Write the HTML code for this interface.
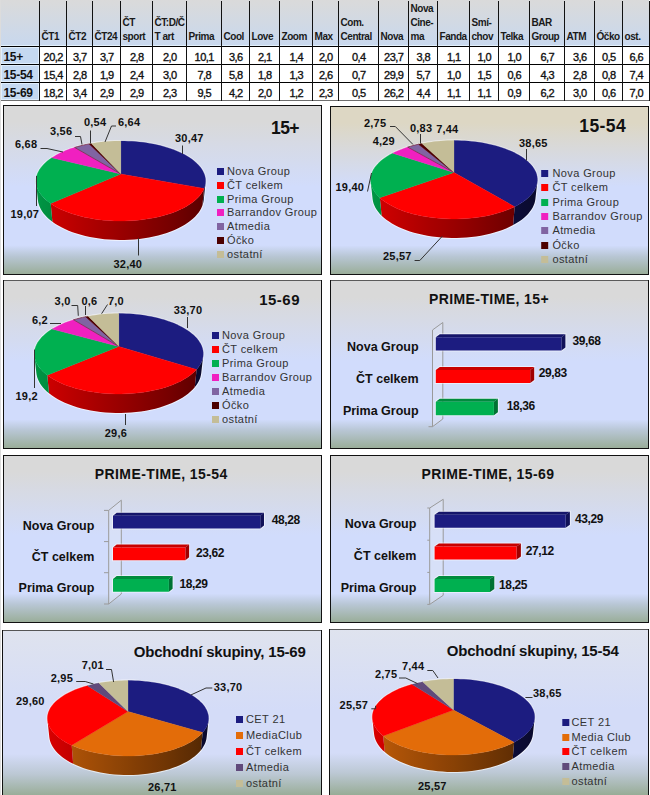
<!DOCTYPE html><html><head><meta charset="utf-8"><style>
*{margin:0;padding:0}
html,body{width:650px;height:795px;overflow:hidden;background:#fff}
svg{display:block;font-family:"Liberation Sans",sans-serif}
</style></head><body>
<svg width="650" height="795" viewBox="0 0 650 795" font-family="Liberation Sans, sans-serif"><defs><linearGradient id="hg" x1="0" y1="0" x2="0" y2="1"><stop offset="0" stop-color="#dadada"/><stop offset="1" stop-color="#c8d8ee"/></linearGradient><linearGradient id="pg1" gradientUnits="userSpaceOnUse" x1="0" y1="105" x2="0" y2="275"><stop offset="0" stop-color="#d9d9d9"/><stop offset="0.1" stop-color="#d9d9d9"/><stop offset="0.48" stop-color="#d1dcfc"/><stop offset="0.825" stop-color="#d1dcfc"/><stop offset="0.89" stop-color="#b8c6d4"/><stop offset="1" stop-color="#98ac96"/></linearGradient><linearGradient id="pg2" gradientUnits="userSpaceOnUse" x1="0" y1="106" x2="0" y2="275"><stop offset="0" stop-color="#ddd7c4"/><stop offset="0.1" stop-color="#ddd7c4"/><stop offset="0.48" stop-color="#d1dcfc"/><stop offset="0.825" stop-color="#d1dcfc"/><stop offset="0.89" stop-color="#b8c6d4"/><stop offset="1" stop-color="#98ac96"/></linearGradient><linearGradient id="pg3" gradientUnits="userSpaceOnUse" x1="0" y1="280" x2="0" y2="449"><stop offset="0" stop-color="#d9d9d9"/><stop offset="0.1" stop-color="#d9d9d9"/><stop offset="0.48" stop-color="#d1dcfc"/><stop offset="0.825" stop-color="#d1dcfc"/><stop offset="0.89" stop-color="#b8c6d4"/><stop offset="1" stop-color="#98ac96"/></linearGradient><linearGradient id="pg4" gradientUnits="userSpaceOnUse" x1="0" y1="280" x2="0" y2="449"><stop offset="0" stop-color="#d9d9d9"/><stop offset="0.1" stop-color="#d9d9d9"/><stop offset="0.48" stop-color="#d1dcfc"/><stop offset="0.825" stop-color="#d1dcfc"/><stop offset="0.89" stop-color="#b8c6d4"/><stop offset="1" stop-color="#98ac96"/></linearGradient><linearGradient id="pg5" gradientUnits="userSpaceOnUse" x1="0" y1="455" x2="0" y2="623"><stop offset="0" stop-color="#d9d9d9"/><stop offset="0.1" stop-color="#d9d9d9"/><stop offset="0.48" stop-color="#d1dcfc"/><stop offset="0.825" stop-color="#d1dcfc"/><stop offset="0.89" stop-color="#b8c6d4"/><stop offset="1" stop-color="#98ac96"/></linearGradient><linearGradient id="pg6" gradientUnits="userSpaceOnUse" x1="0" y1="455" x2="0" y2="623"><stop offset="0" stop-color="#d9d9d9"/><stop offset="0.1" stop-color="#d9d9d9"/><stop offset="0.48" stop-color="#d1dcfc"/><stop offset="0.825" stop-color="#d1dcfc"/><stop offset="0.89" stop-color="#b8c6d4"/><stop offset="1" stop-color="#98ac96"/></linearGradient><linearGradient id="pg7" gradientUnits="userSpaceOnUse" x1="0" y1="630" x2="0" y2="830"><stop offset="0" stop-color="#dfe3ee"/><stop offset="0.4" stop-color="#d4dcf8"/><stop offset="0.62" stop-color="#d4dcf8"/><stop offset="0.72" stop-color="#bcc8d4"/><stop offset="0.83" stop-color="#98ac96"/><stop offset="1" stop-color="#98ac96"/></linearGradient><linearGradient id="pg8" gradientUnits="userSpaceOnUse" x1="0" y1="629" x2="0" y2="829"><stop offset="0" stop-color="#dfe3ee"/><stop offset="0.4" stop-color="#d4dcf8"/><stop offset="0.62" stop-color="#d4dcf8"/><stop offset="0.72" stop-color="#bcc8d4"/><stop offset="0.83" stop-color="#98ac96"/><stop offset="1" stop-color="#98ac96"/></linearGradient></defs>
<rect x="0" y="0" width="1" height="795" fill="#dcdcdc" />
<rect x="1" y="0" width="648" height="46" fill="url(#hg)" />
<rect x="1" y="45" width="648" height="1" fill="#e2f0fc" />
<rect x="1" y="47" width="38" height="17" fill="#c5d9f1" />
<rect x="1.5" y="47.5" width="37" height="16" fill="none" stroke="#e0eefc" stroke-width="1"/>
<rect x="1" y="65" width="38" height="17" fill="#c5d9f1" />
<rect x="1.5" y="65.5" width="37" height="16" fill="none" stroke="#e0eefc" stroke-width="1"/>
<rect x="1" y="83" width="38" height="17" fill="#c5d9f1" />
<rect x="1.5" y="83.5" width="37" height="16" fill="none" stroke="#e0eefc" stroke-width="1"/>
<rect x="1" y="46" width="649" height="1" fill="#000" />
<rect x="1" y="64" width="649" height="1" fill="#000" />
<rect x="1" y="82" width="649" height="1" fill="#000" />
<rect x="1" y="100" width="649" height="1" fill="#6e6e6e" />
<rect x="39" y="1" width="1" height="100" fill="#111" />
<rect x="66" y="1" width="1" height="100" fill="#111" />
<rect x="92" y="1" width="1" height="100" fill="#111" />
<rect x="120" y="1" width="1" height="100" fill="#111" />
<rect x="152" y="1" width="1" height="100" fill="#111" />
<rect x="186" y="1" width="1" height="100" fill="#111" />
<rect x="221" y="1" width="1" height="100" fill="#111" />
<rect x="249" y="1" width="1" height="100" fill="#111" />
<rect x="279" y="1" width="1" height="100" fill="#111" />
<rect x="312" y="1" width="1" height="100" fill="#111" />
<rect x="338" y="1" width="1" height="100" fill="#111" />
<rect x="378" y="1" width="1" height="100" fill="#111" />
<rect x="408" y="1" width="1" height="100" fill="#111" />
<rect x="437" y="1" width="1" height="100" fill="#111" />
<rect x="469" y="1" width="1" height="100" fill="#111" />
<rect x="498" y="1" width="1" height="100" fill="#111" />
<rect x="529" y="1" width="1" height="100" fill="#111" />
<rect x="564" y="1" width="1" height="100" fill="#111" />
<rect x="594" y="1" width="1" height="100" fill="#111" />
<rect x="622" y="1" width="1" height="100" fill="#111" />
<rect x="649" y="1" width="1" height="100" fill="#111" />
<text x="41.5" y="40" font-size="10" font-weight="bold" fill="#1a1a1a" text-anchor="start" letter-spacing="-0.45" >ČT1</text>
<text x="68.5" y="40" font-size="10" font-weight="bold" fill="#1a1a1a" text-anchor="start" letter-spacing="-0.45" >ČT2</text>
<text x="94.5" y="40" font-size="10" font-weight="bold" fill="#1a1a1a" text-anchor="start" letter-spacing="-0.45" >ČT24</text>
<text x="122.5" y="26" font-size="10" font-weight="bold" fill="#1a1a1a" text-anchor="start" letter-spacing="-0.45" >ČT</text>
<text x="122.5" y="40" font-size="10" font-weight="bold" fill="#1a1a1a" text-anchor="start" letter-spacing="-0.45" >sport</text>
<text x="154.5" y="26" font-size="10" font-weight="bold" fill="#1a1a1a" text-anchor="start" letter-spacing="-0.45" >ČT:D/Č</text>
<text x="154.5" y="40" font-size="10" font-weight="bold" fill="#1a1a1a" text-anchor="start" letter-spacing="-0.45" >T art</text>
<text x="188.5" y="40" font-size="10" font-weight="bold" fill="#1a1a1a" text-anchor="start" letter-spacing="-0.45" >Prima</text>
<text x="223.5" y="40" font-size="10" font-weight="bold" fill="#1a1a1a" text-anchor="start" letter-spacing="-0.45" >Cool</text>
<text x="251.5" y="40" font-size="10" font-weight="bold" fill="#1a1a1a" text-anchor="start" letter-spacing="-0.45" >Love</text>
<text x="281.5" y="40" font-size="10" font-weight="bold" fill="#1a1a1a" text-anchor="start" letter-spacing="-0.45" >Zoom</text>
<text x="314.5" y="40" font-size="10" font-weight="bold" fill="#1a1a1a" text-anchor="start" letter-spacing="-0.45" >Max</text>
<text x="340.5" y="26" font-size="10" font-weight="bold" fill="#1a1a1a" text-anchor="start" letter-spacing="-0.45" >Com.</text>
<text x="340.5" y="40" font-size="10" font-weight="bold" fill="#1a1a1a" text-anchor="start" letter-spacing="-0.45" >Central</text>
<text x="380.5" y="40" font-size="10" font-weight="bold" fill="#1a1a1a" text-anchor="start" letter-spacing="-0.45" >Nova</text>
<text x="410.5" y="12" font-size="10" font-weight="bold" fill="#1a1a1a" text-anchor="start" letter-spacing="-0.45" >Nova</text>
<text x="410.5" y="26" font-size="10" font-weight="bold" fill="#1a1a1a" text-anchor="start" letter-spacing="-0.45" >Cine-</text>
<text x="410.5" y="40" font-size="10" font-weight="bold" fill="#1a1a1a" text-anchor="start" letter-spacing="-0.45" >ma</text>
<text x="439.5" y="40" font-size="10" font-weight="bold" fill="#1a1a1a" text-anchor="start" letter-spacing="-0.45" >Fanda</text>
<text x="471.5" y="26" font-size="10" font-weight="bold" fill="#1a1a1a" text-anchor="start" letter-spacing="-0.45" >Smí-</text>
<text x="471.5" y="40" font-size="10" font-weight="bold" fill="#1a1a1a" text-anchor="start" letter-spacing="-0.45" >chov</text>
<text x="500.5" y="40" font-size="10" font-weight="bold" fill="#1a1a1a" text-anchor="start" letter-spacing="-0.45" >Telka</text>
<text x="531.5" y="26" font-size="10" font-weight="bold" fill="#1a1a1a" text-anchor="start" letter-spacing="-0.45" >BAR</text>
<text x="531.5" y="40" font-size="10" font-weight="bold" fill="#1a1a1a" text-anchor="start" letter-spacing="-0.45" >Group</text>
<text x="566.5" y="40" font-size="10" font-weight="bold" fill="#1a1a1a" text-anchor="start" letter-spacing="-0.45" >ATM</text>
<text x="596.5" y="40" font-size="10" font-weight="bold" fill="#1a1a1a" text-anchor="start" letter-spacing="-0.45" >Óčko</text>
<text x="624.5" y="40" font-size="10" font-weight="bold" fill="#1a1a1a" text-anchor="start" letter-spacing="-0.45" >ost.</text>
<text x="3.5" y="61" font-size="12" font-weight="bold" fill="#111" text-anchor="start" letter-spacing="-0.3" >15+</text>
<text x="53.3" y="61" font-size="11" font-weight="normal" fill="#111" text-anchor="middle" letter-spacing="-0.5" stroke="#111" stroke-width="0.35">20,2</text>
<text x="79.8" y="61" font-size="11" font-weight="normal" fill="#111" text-anchor="middle" letter-spacing="-0.5" stroke="#111" stroke-width="0.35">3,7</text>
<text x="106.8" y="61" font-size="11" font-weight="normal" fill="#111" text-anchor="middle" letter-spacing="-0.5" stroke="#111" stroke-width="0.35">3,7</text>
<text x="136.8" y="61" font-size="11" font-weight="normal" fill="#111" text-anchor="middle" letter-spacing="-0.5" stroke="#111" stroke-width="0.35">2,8</text>
<text x="169.8" y="61" font-size="11" font-weight="normal" fill="#111" text-anchor="middle" letter-spacing="-0.5" stroke="#111" stroke-width="0.35">2,0</text>
<text x="204.3" y="61" font-size="11" font-weight="normal" fill="#111" text-anchor="middle" letter-spacing="-0.5" stroke="#111" stroke-width="0.35">10,1</text>
<text x="235.8" y="61" font-size="11" font-weight="normal" fill="#111" text-anchor="middle" letter-spacing="-0.5" stroke="#111" stroke-width="0.35">3,6</text>
<text x="264.8" y="61" font-size="11" font-weight="normal" fill="#111" text-anchor="middle" letter-spacing="-0.5" stroke="#111" stroke-width="0.35">2,1</text>
<text x="296.3" y="61" font-size="11" font-weight="normal" fill="#111" text-anchor="middle" letter-spacing="-0.5" stroke="#111" stroke-width="0.35">1,4</text>
<text x="325.8" y="61" font-size="11" font-weight="normal" fill="#111" text-anchor="middle" letter-spacing="-0.5" stroke="#111" stroke-width="0.35">2,0</text>
<text x="358.8" y="61" font-size="11" font-weight="normal" fill="#111" text-anchor="middle" letter-spacing="-0.5" stroke="#111" stroke-width="0.35">0,4</text>
<text x="393.8" y="61" font-size="11" font-weight="normal" fill="#111" text-anchor="middle" letter-spacing="-0.5" stroke="#111" stroke-width="0.35">23,7</text>
<text x="423.3" y="61" font-size="11" font-weight="normal" fill="#111" text-anchor="middle" letter-spacing="-0.5" stroke="#111" stroke-width="0.35">3,8</text>
<text x="453.8" y="61" font-size="11" font-weight="normal" fill="#111" text-anchor="middle" letter-spacing="-0.5" stroke="#111" stroke-width="0.35">1,1</text>
<text x="484.3" y="61" font-size="11" font-weight="normal" fill="#111" text-anchor="middle" letter-spacing="-0.5" stroke="#111" stroke-width="0.35">1,0</text>
<text x="514.3" y="61" font-size="11" font-weight="normal" fill="#111" text-anchor="middle" letter-spacing="-0.5" stroke="#111" stroke-width="0.35">1,0</text>
<text x="547.3" y="61" font-size="11" font-weight="normal" fill="#111" text-anchor="middle" letter-spacing="-0.5" stroke="#111" stroke-width="0.35">6,7</text>
<text x="579.8" y="61" font-size="11" font-weight="normal" fill="#111" text-anchor="middle" letter-spacing="-0.5" stroke="#111" stroke-width="0.35">3,6</text>
<text x="608.8" y="61" font-size="11" font-weight="normal" fill="#111" text-anchor="middle" letter-spacing="-0.5" stroke="#111" stroke-width="0.35">0,5</text>
<text x="636.3" y="61" font-size="11" font-weight="normal" fill="#111" text-anchor="middle" letter-spacing="-0.5" stroke="#111" stroke-width="0.35">6,6</text>
<text x="3.5" y="79" font-size="12" font-weight="bold" fill="#111" text-anchor="start" letter-spacing="-0.3" >15-54</text>
<text x="53.3" y="79" font-size="11" font-weight="normal" fill="#111" text-anchor="middle" letter-spacing="-0.5" stroke="#111" stroke-width="0.35">15,4</text>
<text x="79.8" y="79" font-size="11" font-weight="normal" fill="#111" text-anchor="middle" letter-spacing="-0.5" stroke="#111" stroke-width="0.35">2,8</text>
<text x="106.8" y="79" font-size="11" font-weight="normal" fill="#111" text-anchor="middle" letter-spacing="-0.5" stroke="#111" stroke-width="0.35">1,9</text>
<text x="136.8" y="79" font-size="11" font-weight="normal" fill="#111" text-anchor="middle" letter-spacing="-0.5" stroke="#111" stroke-width="0.35">2,4</text>
<text x="169.8" y="79" font-size="11" font-weight="normal" fill="#111" text-anchor="middle" letter-spacing="-0.5" stroke="#111" stroke-width="0.35">3,0</text>
<text x="204.3" y="79" font-size="11" font-weight="normal" fill="#111" text-anchor="middle" letter-spacing="-0.5" stroke="#111" stroke-width="0.35">7,8</text>
<text x="235.8" y="79" font-size="11" font-weight="normal" fill="#111" text-anchor="middle" letter-spacing="-0.5" stroke="#111" stroke-width="0.35">5,8</text>
<text x="264.8" y="79" font-size="11" font-weight="normal" fill="#111" text-anchor="middle" letter-spacing="-0.5" stroke="#111" stroke-width="0.35">1,8</text>
<text x="296.3" y="79" font-size="11" font-weight="normal" fill="#111" text-anchor="middle" letter-spacing="-0.5" stroke="#111" stroke-width="0.35">1,3</text>
<text x="325.8" y="79" font-size="11" font-weight="normal" fill="#111" text-anchor="middle" letter-spacing="-0.5" stroke="#111" stroke-width="0.35">2,6</text>
<text x="358.8" y="79" font-size="11" font-weight="normal" fill="#111" text-anchor="middle" letter-spacing="-0.5" stroke="#111" stroke-width="0.35">0,7</text>
<text x="393.8" y="79" font-size="11" font-weight="normal" fill="#111" text-anchor="middle" letter-spacing="-0.5" stroke="#111" stroke-width="0.35">29,9</text>
<text x="423.3" y="79" font-size="11" font-weight="normal" fill="#111" text-anchor="middle" letter-spacing="-0.5" stroke="#111" stroke-width="0.35">5,7</text>
<text x="453.8" y="79" font-size="11" font-weight="normal" fill="#111" text-anchor="middle" letter-spacing="-0.5" stroke="#111" stroke-width="0.35">1,0</text>
<text x="484.3" y="79" font-size="11" font-weight="normal" fill="#111" text-anchor="middle" letter-spacing="-0.5" stroke="#111" stroke-width="0.35">1,5</text>
<text x="514.3" y="79" font-size="11" font-weight="normal" fill="#111" text-anchor="middle" letter-spacing="-0.5" stroke="#111" stroke-width="0.35">0,6</text>
<text x="547.3" y="79" font-size="11" font-weight="normal" fill="#111" text-anchor="middle" letter-spacing="-0.5" stroke="#111" stroke-width="0.35">4,3</text>
<text x="579.8" y="79" font-size="11" font-weight="normal" fill="#111" text-anchor="middle" letter-spacing="-0.5" stroke="#111" stroke-width="0.35">2,8</text>
<text x="608.8" y="79" font-size="11" font-weight="normal" fill="#111" text-anchor="middle" letter-spacing="-0.5" stroke="#111" stroke-width="0.35">0,8</text>
<text x="636.3" y="79" font-size="11" font-weight="normal" fill="#111" text-anchor="middle" letter-spacing="-0.5" stroke="#111" stroke-width="0.35">7,4</text>
<text x="3.5" y="97" font-size="12" font-weight="bold" fill="#111" text-anchor="start" letter-spacing="-0.3" >15-69</text>
<text x="53.3" y="97" font-size="11" font-weight="normal" fill="#111" text-anchor="middle" letter-spacing="-0.5" stroke="#111" stroke-width="0.35">18,2</text>
<text x="79.8" y="97" font-size="11" font-weight="normal" fill="#111" text-anchor="middle" letter-spacing="-0.5" stroke="#111" stroke-width="0.35">3,4</text>
<text x="106.8" y="97" font-size="11" font-weight="normal" fill="#111" text-anchor="middle" letter-spacing="-0.5" stroke="#111" stroke-width="0.35">2,9</text>
<text x="136.8" y="97" font-size="11" font-weight="normal" fill="#111" text-anchor="middle" letter-spacing="-0.5" stroke="#111" stroke-width="0.35">2,9</text>
<text x="169.8" y="97" font-size="11" font-weight="normal" fill="#111" text-anchor="middle" letter-spacing="-0.5" stroke="#111" stroke-width="0.35">2,3</text>
<text x="204.3" y="97" font-size="11" font-weight="normal" fill="#111" text-anchor="middle" letter-spacing="-0.5" stroke="#111" stroke-width="0.35">9,5</text>
<text x="235.8" y="97" font-size="11" font-weight="normal" fill="#111" text-anchor="middle" letter-spacing="-0.5" stroke="#111" stroke-width="0.35">4,2</text>
<text x="264.8" y="97" font-size="11" font-weight="normal" fill="#111" text-anchor="middle" letter-spacing="-0.5" stroke="#111" stroke-width="0.35">2,0</text>
<text x="296.3" y="97" font-size="11" font-weight="normal" fill="#111" text-anchor="middle" letter-spacing="-0.5" stroke="#111" stroke-width="0.35">1,2</text>
<text x="325.8" y="97" font-size="11" font-weight="normal" fill="#111" text-anchor="middle" letter-spacing="-0.5" stroke="#111" stroke-width="0.35">2,3</text>
<text x="358.8" y="97" font-size="11" font-weight="normal" fill="#111" text-anchor="middle" letter-spacing="-0.5" stroke="#111" stroke-width="0.35">0,5</text>
<text x="393.8" y="97" font-size="11" font-weight="normal" fill="#111" text-anchor="middle" letter-spacing="-0.5" stroke="#111" stroke-width="0.35">26,2</text>
<text x="423.3" y="97" font-size="11" font-weight="normal" fill="#111" text-anchor="middle" letter-spacing="-0.5" stroke="#111" stroke-width="0.35">4,4</text>
<text x="453.8" y="97" font-size="11" font-weight="normal" fill="#111" text-anchor="middle" letter-spacing="-0.5" stroke="#111" stroke-width="0.35">1,1</text>
<text x="484.3" y="97" font-size="11" font-weight="normal" fill="#111" text-anchor="middle" letter-spacing="-0.5" stroke="#111" stroke-width="0.35">1,1</text>
<text x="514.3" y="97" font-size="11" font-weight="normal" fill="#111" text-anchor="middle" letter-spacing="-0.5" stroke="#111" stroke-width="0.35">0,9</text>
<text x="547.3" y="97" font-size="11" font-weight="normal" fill="#111" text-anchor="middle" letter-spacing="-0.5" stroke="#111" stroke-width="0.35">6,2</text>
<text x="579.8" y="97" font-size="11" font-weight="normal" fill="#111" text-anchor="middle" letter-spacing="-0.5" stroke="#111" stroke-width="0.35">3,0</text>
<text x="608.8" y="97" font-size="11" font-weight="normal" fill="#111" text-anchor="middle" letter-spacing="-0.5" stroke="#111" stroke-width="0.35">0,6</text>
<text x="636.3" y="97" font-size="11" font-weight="normal" fill="#111" text-anchor="middle" letter-spacing="-0.5" stroke="#111" stroke-width="0.35">7,0</text>
<rect x="3.5" y="105.5" width="318" height="169" fill="url(#pg1)" stroke="#111" stroke-width="1"/>
<rect x="330.5" y="106.5" width="318" height="168" fill="url(#pg2)" stroke="#111" stroke-width="1"/>
<rect x="3.5" y="280.5" width="318" height="168" fill="url(#pg3)" stroke="#111" stroke-width="1"/>
<rect x="4" y="280" width="317" height="1" fill="#5a5a5a"/>
<rect x="330.5" y="280.5" width="318" height="168" fill="url(#pg4)" stroke="#111" stroke-width="1"/>
<rect x="331" y="280" width="317" height="1" fill="#5a5a5a"/>
<rect x="3.5" y="455.5" width="318" height="167" fill="url(#pg5)" stroke="#111" stroke-width="1"/>
<rect x="330.5" y="455.5" width="318" height="167" fill="url(#pg6)" stroke="#111" stroke-width="1"/>
<rect x="2.5" y="630.5" width="319" height="199" fill="url(#pg7)" stroke="#111" stroke-width="1"/>
<rect x="3" y="630" width="318" height="1" fill="#555"/>
<rect x="329.5" y="629.5" width="319" height="199" fill="url(#pg8)" stroke="#111" stroke-width="1"/>
<rect x="330" y="629" width="318" height="1" fill="#555"/>
<text x="429" y="304.4" font-size="14" font-weight="bold" fill="#111" text-anchor="start" letter-spacing="0.4" >PRIME-TIME, 15+</text>
<path d="M432.5,426.7L432.5,330L442.8,322.5L442.8,419Z" fill="#dde3f4" fill-opacity="0.5" stroke="#9a9a9a" stroke-width="1"/>
<path d="M428.5,426.7L432.5,426.7" fill="none" stroke="#9a9a9a" stroke-width="1"/>
<path d="M435.8,350.4L435.8,337.3L439.8,334.3L565.4,334.3L565.4,347.4L561.4,350.4Z" fill="none" stroke="#fff" stroke-opacity="0.5" stroke-width="2"/>
<path d="M435.80,337.30L439.80,334.30L565.40,334.30L561.40,337.30Z" fill="#15156a"/>
<path d="M561.40,337.30L565.40,334.30L565.40,347.40L561.40,350.40Z" fill="#111158"/>
<path d="M435.80,337.30L561.40,337.30L561.40,350.40L435.80,350.40Z" fill="#1c1c80"/>
<text x="572.5" y="344.5" font-size="12" font-weight="bold" fill="#111" text-anchor="start" letter-spacing="-0.4" >39,68</text>
<text x="418.6" y="351" font-size="12.5" font-weight="bold" fill="#111" text-anchor="end" >Nova Group</text>
<path d="M435.8,383L435.8,370L439.8,367L534.2,367L534.2,380L530.2,383Z" fill="none" stroke="#fff" stroke-opacity="0.5" stroke-width="2"/>
<path d="M435.80,370.00L439.80,367.00L534.20,367.00L530.20,370.00Z" fill="#c80000"/>
<path d="M530.20,370.00L534.20,367.00L534.20,380.00L530.20,383.00Z" fill="#a00000"/>
<path d="M435.80,370.00L530.20,370.00L530.20,383.00L435.80,383.00Z" fill="#ff0000"/>
<text x="538.7" y="377.2" font-size="12" font-weight="bold" fill="#111" text-anchor="start" letter-spacing="-0.4" >29,83</text>
<text x="418.6" y="383" font-size="12.5" font-weight="bold" fill="#111" text-anchor="end" >ČT celkem</text>
<path d="M435.8,415.2L435.8,401.8L439.8,398.8L497.9,398.8L497.9,412.2L493.9,415.2Z" fill="none" stroke="#fff" stroke-opacity="0.5" stroke-width="2"/>
<path d="M435.80,401.80L439.80,398.80L497.90,398.80L493.90,401.80Z" fill="#008c3e"/>
<path d="M493.90,401.80L497.90,398.80L497.90,412.20L493.90,415.20Z" fill="#007234"/>
<path d="M435.80,401.80L493.90,401.80L493.90,415.20L435.80,415.20Z" fill="#00b050"/>
<text x="506.7" y="409.7" font-size="12" font-weight="bold" fill="#111" text-anchor="start" letter-spacing="-0.4" >18,36</text>
<text x="418.6" y="415" font-size="12.5" font-weight="bold" fill="#111" text-anchor="end" >Prima Group</text>
<text x="94.8" y="478.9" font-size="14" font-weight="bold" fill="#111" text-anchor="start" letter-spacing="0.4" >PRIME-TIME, 15-54</text>
<path d="M108.7,604L108.7,510.4L121.3,500.2L121.3,594Z" fill="#dde3f4" fill-opacity="0.5" stroke="#9a9a9a" stroke-width="1"/>
<path d="M104,510.4L108.7,510.4" fill="none" stroke="#9a9a9a" stroke-width="1"/>
<path d="M104,541.6L108.7,541.6" fill="none" stroke="#9a9a9a" stroke-width="1"/>
<path d="M104,572.7L108.7,572.7" fill="none" stroke="#9a9a9a" stroke-width="1"/>
<path d="M104,604L108.7,604" fill="none" stroke="#9a9a9a" stroke-width="1"/>
<path d="M113,528.6L113,515.8L116.7,512.8L264.0,512.8L264.0,525.6L260.3,528.6Z" fill="none" stroke="#fff" stroke-opacity="0.5" stroke-width="2"/>
<path d="M113.00,515.80L116.70,512.80L264.00,512.80L260.30,515.80Z" fill="#15156a"/>
<path d="M260.30,515.80L264.00,512.80L264.00,525.60L260.30,528.60Z" fill="#111158"/>
<path d="M113.00,515.80L260.30,515.80L260.30,528.60L113.00,528.60Z" fill="#1c1c80"/>
<text x="271.7" y="523.5" font-size="12" font-weight="bold" fill="#111" text-anchor="start" letter-spacing="-0.4" >48,28</text>
<text x="94.3" y="530" font-size="12.5" font-weight="bold" fill="#111" text-anchor="end" >Nova Group</text>
<path d="M113,560.3L113,547.5L116.7,544.5L189.1,544.5L189.1,557.3L185.4,560.3Z" fill="none" stroke="#fff" stroke-opacity="0.5" stroke-width="2"/>
<path d="M113.00,547.50L116.70,544.50L189.10,544.50L185.40,547.50Z" fill="#c80000"/>
<path d="M185.40,547.50L189.10,544.50L189.10,557.30L185.40,560.30Z" fill="#a00000"/>
<path d="M113.00,547.50L185.40,547.50L185.40,560.30L113.00,560.30Z" fill="#ff0000"/>
<text x="196" y="556.5" font-size="12" font-weight="bold" fill="#111" text-anchor="start" letter-spacing="-0.4" >23,62</text>
<text x="94.3" y="561.3" font-size="12.5" font-weight="bold" fill="#111" text-anchor="end" >ČT celkem</text>
<path d="M113,591.8L113,579L116.7,576L172.6,576L172.6,588.8L168.9,591.8Z" fill="none" stroke="#fff" stroke-opacity="0.5" stroke-width="2"/>
<path d="M113.00,579.00L116.70,576.00L172.60,576.00L168.90,579.00Z" fill="#008c3e"/>
<path d="M168.90,579.00L172.60,576.00L172.60,588.80L168.90,591.80Z" fill="#007234"/>
<path d="M113.00,579.00L168.90,579.00L168.90,591.80L113.00,591.80Z" fill="#00b050"/>
<text x="179.5" y="587.5" font-size="12" font-weight="bold" fill="#111" text-anchor="start" letter-spacing="-0.4" >18,29</text>
<text x="94.3" y="592.4" font-size="12.5" font-weight="bold" fill="#111" text-anchor="end" >Prima Group</text>
<text x="421.6" y="478.9" font-size="14" font-weight="bold" fill="#111" text-anchor="start" letter-spacing="0.4" >PRIME-TIME, 15-69</text>
<path d="M429.7,604.4L429.7,508L443.2,499.3L443.2,595.3Z" fill="#dde3f4" fill-opacity="0.5" stroke="#9a9a9a" stroke-width="1"/>
<path d="M427.3,508L429.7,508" fill="none" stroke="#9a9a9a" stroke-width="1"/>
<path d="M427.3,540.2L429.7,540.2" fill="none" stroke="#9a9a9a" stroke-width="1"/>
<path d="M427.3,572.4L429.7,572.4" fill="none" stroke="#9a9a9a" stroke-width="1"/>
<path d="M427.3,604.4L429.7,604.4" fill="none" stroke="#9a9a9a" stroke-width="1"/>
<path d="M434.6,527.7L434.6,514.7L438.90000000000003,511.70000000000005L569.9,511.70000000000005L569.9,524.7L565.6,527.7Z" fill="none" stroke="#fff" stroke-opacity="0.5" stroke-width="2"/>
<path d="M434.60,514.70L438.90,511.70L569.90,511.70L565.60,514.70Z" fill="#15156a"/>
<path d="M565.60,514.70L569.90,511.70L569.90,524.70L565.60,527.70Z" fill="#111158"/>
<path d="M434.60,514.70L565.60,514.70L565.60,527.70L434.60,527.70Z" fill="#1c1c80"/>
<text x="575" y="523.4" font-size="12" font-weight="bold" fill="#111" text-anchor="start" letter-spacing="-0.4" >43,29</text>
<text x="416.4" y="528.4" font-size="12.5" font-weight="bold" fill="#111" text-anchor="end" >Nova Group</text>
<path d="M434.6,559.6L434.6,546.6L438.90000000000003,543.6L520.9,543.6L520.9,556.6L516.6,559.6Z" fill="none" stroke="#fff" stroke-opacity="0.5" stroke-width="2"/>
<path d="M434.60,546.60L438.90,543.60L520.90,543.60L516.60,546.60Z" fill="#c80000"/>
<path d="M516.60,546.60L520.90,543.60L520.90,556.60L516.60,559.60Z" fill="#a00000"/>
<path d="M434.60,546.60L516.60,546.60L516.60,559.60L434.60,559.60Z" fill="#ff0000"/>
<text x="525.7" y="555.4" font-size="12" font-weight="bold" fill="#111" text-anchor="start" letter-spacing="-0.4" >27,12</text>
<text x="416.4" y="560.4" font-size="12.5" font-weight="bold" fill="#111" text-anchor="end" >ČT celkem</text>
<path d="M434.6,592L434.6,579L438.90000000000003,576L494.3,576L494.3,589L490,592Z" fill="none" stroke="#fff" stroke-opacity="0.5" stroke-width="2"/>
<path d="M434.60,579.00L438.90,576.00L494.30,576.00L490.00,579.00Z" fill="#008c3e"/>
<path d="M490.00,579.00L494.30,576.00L494.30,589.00L490.00,592.00Z" fill="#007234"/>
<path d="M434.60,579.00L490.00,579.00L490.00,592.00L434.60,592.00Z" fill="#00b050"/>
<text x="499.1" y="589.2" font-size="12" font-weight="bold" fill="#111" text-anchor="start" letter-spacing="-0.4" >18,25</text>
<text x="416.4" y="592.4" font-size="12.5" font-weight="bold" fill="#111" text-anchor="end" >Prima Group</text>
<path d="M36.10,183.00L36.01,181.78L36.00,180.56L36.06,179.35L36.21,178.15L36.43,176.96L36.72,175.77L37.08,174.60L37.52,173.44L38.02,172.29L38.60,171.16L39.24,170.04L39.94,168.93L40.71,167.84L41.54,166.77L42.43,165.71L43.38,164.67L44.38,163.65L45.45,162.65L46.56,161.66L47.73,160.70L48.94,159.75L50.21,158.83L51.52,157.93L52.88,157.04L54.29,156.18L55.74,155.34L57.22,154.53L58.75,153.73L60.32,152.96L61.92,152.21L63.56,151.48L65.24,150.78L66.94,150.10L68.68,149.45L70.45,148.81L72.24,148.20L74.07,147.62L75.92,147.06L77.79,146.52L79.69,146.01L81.61,145.53L83.55,145.06L85.52,144.63L87.50,144.21L89.49,143.82L91.51,143.46L93.54,143.12L95.58,142.81L97.64,142.52L99.71,142.26L101.79,142.02L103.87,141.80L105.97,141.62L108.08,141.45L110.19,141.31L112.30,141.20L114.42,141.11L116.55,141.05L118.67,141.01L120.80,141.00L122.93,141.01L125.05,141.05L127.18,141.11L129.30,141.20L131.41,141.31L133.52,141.45L135.63,141.62L137.73,141.80L139.81,142.02L141.89,142.26L143.96,142.52L146.02,142.81L148.06,143.12L150.09,143.46L152.11,143.82L154.10,144.21L156.08,144.63L158.05,145.06L159.99,145.53L161.91,146.01L163.81,146.52L165.68,147.06L167.53,147.62L169.36,148.20L171.15,148.81L172.92,149.45L174.66,150.10L176.36,150.78L178.04,151.48L179.68,152.21L181.28,152.96L182.85,153.73L184.38,154.53L185.86,155.34L187.31,156.18L188.72,157.04L190.08,157.93L191.39,158.83L192.66,159.75L193.87,160.70L195.04,161.66L196.15,162.65L197.22,163.65L198.22,164.67L199.17,165.71L200.06,166.77L200.89,167.84L201.66,168.93L202.36,170.04L203.00,171.16L203.58,172.29L204.08,173.44L204.52,174.60L204.88,175.77L205.17,176.96L205.39,178.15L205.54,179.35L205.60,180.56L205.59,181.78L205.50,183.00L203.68,200.19L203.38,202.13L202.91,204.07L202.25,206.01L201.41,207.95L200.38,209.88L199.15,211.80L197.74,213.70L196.14,215.58L194.34,217.43L192.36,219.24L190.18,221.02L187.82,222.74L185.28,224.42L182.55,226.04L179.65,227.60L176.58,229.08L173.34,230.50L169.95,231.83L166.42,233.08L162.74,234.23L158.93,235.30L155.01,236.26L150.97,237.12L146.85,237.87L142.64,238.52L138.35,239.05L134.02,239.46L129.63,239.76L125.22,239.94L120.80,240.00L116.38,239.94L111.97,239.76L107.58,239.46L103.25,239.05L98.96,238.52L94.75,237.87L90.63,237.12L86.59,236.26L82.67,235.30L78.86,234.23L75.18,233.08L71.65,231.83L68.26,230.50L65.02,229.08L61.95,227.60L59.05,226.04L56.32,224.42L53.78,222.74L51.42,221.02L49.24,219.24L47.26,217.43L45.46,215.58L43.86,213.70L42.45,211.80L41.22,209.88L40.19,207.95L39.35,206.01L38.69,204.07L38.22,202.13L37.92,200.19Z" fill="none" stroke="#ffffff" stroke-opacity="0.6" stroke-width="2"/>
<linearGradient id="pw1" gradientUnits="userSpaceOnUse" x1="204.15" y1="0" x2="205.50" y2="0"><stop offset="0.0000" stop-color="#0a0a2c"/><stop offset="0.0970" stop-color="#0a0a2c"/><stop offset="0.1893" stop-color="#0a0a2c"/><stop offset="0.2770" stop-color="#0a0a2c"/><stop offset="0.3601" stop-color="#0a0a2c"/><stop offset="0.4385" stop-color="#0a0a2c"/><stop offset="0.5123" stop-color="#0a0a2c"/><stop offset="0.5815" stop-color="#0a0a2c"/><stop offset="0.6461" stop-color="#0a0a2c"/><stop offset="0.7062" stop-color="#0a0a2c"/><stop offset="0.7617" stop-color="#0a0a2c"/><stop offset="0.8127" stop-color="#0a0a2b"/><stop offset="0.8591" stop-color="#09092b"/><stop offset="0.9011" stop-color="#09092b"/><stop offset="0.9385" stop-color="#09092b"/><stop offset="0.9715" stop-color="#09092b"/><stop offset="1.0000" stop-color="#09092b"/></linearGradient>
<path d="M205.50,183.00L205.23,184.79L204.78,186.59L204.15,188.39L202.31,205.86L202.94,203.97L203.39,202.08L203.68,200.19Z" fill="url(#pw1)"/>
<linearGradient id="pw2" gradientUnits="userSpaceOnUse" x1="50.71" y1="0" x2="204.15" y2="0"><stop offset="0.0000" stop-color="#cc0000"/><stop offset="0.0495" stop-color="#c60000"/><stop offset="0.1084" stop-color="#bf0000"/><stop offset="0.1758" stop-color="#b70000"/><stop offset="0.2504" stop-color="#af0000"/><stop offset="0.3302" stop-color="#a60000"/><stop offset="0.4135" stop-color="#9e0000"/><stop offset="0.4978" stop-color="#950000"/><stop offset="0.5811" stop-color="#8c0000"/><stop offset="0.6611" stop-color="#830000"/><stop offset="0.7358" stop-color="#7b0000"/><stop offset="0.8034" stop-color="#740000"/><stop offset="0.8626" stop-color="#6d0000"/><stop offset="0.9124" stop-color="#660000"/><stop offset="0.9520" stop-color="#610000"/><stop offset="0.9812" stop-color="#5c0000"/><stop offset="1.0000" stop-color="#580000"/></linearGradient>
<path d="M204.15,188.39L203.18,190.50L201.96,192.60L200.49,194.68L198.76,196.74L196.78,198.77L194.54,200.76L192.04,202.70L189.30,204.59L186.31,206.41L183.07,208.15L179.61,209.82L175.92,211.40L172.01,212.88L167.90,214.26L163.61,215.53L159.14,216.68L154.52,217.70L149.75,218.60L144.86,219.36L139.88,219.98L134.81,220.45L129.68,220.78L124.51,220.96L119.33,220.99L114.15,220.88L109.00,220.61L103.91,220.20L98.88,219.64L93.95,218.94L89.13,218.11L84.44,217.14L79.90,216.04L75.53,214.82L71.34,213.49L67.35,212.05L63.56,210.52L60.00,208.89L56.66,207.17L53.57,205.38L50.71,203.52L52.36,221.72L55.15,223.67L58.19,225.54L61.45,227.34L64.94,229.04L68.64,230.65L72.54,232.16L76.64,233.55L80.91,234.82L85.34,235.97L89.91,236.98L94.61,237.85L99.43,238.58L104.33,239.16L109.30,239.59L114.32,239.87L119.36,239.99L124.42,239.96L129.46,239.77L134.46,239.43L139.40,238.93L144.27,238.28L149.03,237.49L153.68,236.56L158.20,235.49L162.56,234.29L166.75,232.96L170.77,231.52L174.58,229.97L178.19,228.32L181.59,226.57L184.75,224.74L187.69,222.84L190.38,220.86L192.83,218.83L195.03,216.75L196.98,214.62L198.69,212.46L200.14,210.27L201.35,208.07L202.31,205.86Z" fill="url(#pw2)"/>
<linearGradient id="pw3" gradientUnits="userSpaceOnUse" x1="36.10" y1="0" x2="50.71" y2="0"><stop offset="0.0000" stop-color="#009845"/><stop offset="0.0127" stop-color="#009845"/><stop offset="0.0317" stop-color="#009745"/><stop offset="0.0572" stop-color="#009744"/><stop offset="0.0893" stop-color="#009644"/><stop offset="0.1279" stop-color="#009644"/><stop offset="0.1732" stop-color="#009544"/><stop offset="0.2252" stop-color="#009443"/><stop offset="0.2840" stop-color="#009443"/><stop offset="0.3497" stop-color="#009343"/><stop offset="0.4221" stop-color="#009242"/><stop offset="0.5014" stop-color="#009142"/><stop offset="0.5875" stop-color="#009142"/><stop offset="0.6805" stop-color="#009041"/><stop offset="0.7802" stop-color="#008f41"/><stop offset="0.8867" stop-color="#008e40"/><stop offset="1.0000" stop-color="#008d40"/></linearGradient>
<path d="M50.71,203.52L48.11,201.61L45.76,199.64L43.67,197.63L41.83,195.59L40.25,193.51L38.92,191.42L37.85,189.32L37.02,187.21L36.44,185.10L36.10,183.00L37.92,200.19L38.27,202.40L38.86,204.61L39.68,206.83L40.75,209.04L42.06,211.23L43.63,213.41L45.44,215.55L47.50,217.66L49.80,219.72L52.36,221.72Z" fill="url(#pw3)"/>
<path d="M120.80,174.00L120.80,141.00L124.50,141.04L128.19,141.15L131.88,141.34L135.54,141.61L139.19,141.95L142.80,142.37L146.39,142.86L149.93,143.43L153.42,144.08L156.87,144.80L160.26,145.59L163.58,146.46L166.83,147.40L170.00,148.42L173.09,149.51L176.09,150.67L178.99,151.90L181.78,153.20L184.46,154.57L187.02,156.01L189.45,157.52L191.75,159.08L193.90,160.72L195.89,162.41L197.72,164.16L199.39,165.96L200.87,167.82L202.17,169.72L203.27,171.68L204.17,173.67L204.86,175.70L205.33,177.77L205.57,179.86L205.58,181.97L205.35,184.10L204.88,186.25L204.15,188.39Z" fill="#1c1c80" stroke="#1c1c80" stroke-width="0.3"/>
<path d="M120.80,174.00L204.15,188.39L203.18,190.50L201.96,192.60L200.49,194.68L198.76,196.74L196.78,198.77L194.54,200.76L192.04,202.70L189.30,204.59L186.31,206.41L183.07,208.15L179.61,209.82L175.92,211.40L172.01,212.88L167.90,214.26L163.61,215.53L159.14,216.68L154.52,217.70L149.75,218.60L144.86,219.36L139.88,219.98L134.81,220.45L129.68,220.78L124.51,220.96L119.33,220.99L114.15,220.88L109.00,220.61L103.91,220.20L98.88,219.64L93.95,218.94L89.13,218.11L84.44,217.14L79.90,216.04L75.53,214.82L71.34,213.49L67.35,212.05L63.56,210.52L60.00,208.89L56.66,207.17L53.57,205.38L50.71,203.52Z" fill="#ff0000" stroke="#ff0000" stroke-width="0.3"/>
<path d="M120.80,174.00L50.71,203.52L48.16,201.64L45.84,199.71L43.78,197.74L41.95,195.73L40.38,193.70L39.05,191.65L37.97,189.59L37.12,187.52L36.52,185.44L36.14,183.38L35.99,181.33L36.07,179.29L36.36,177.28L36.86,175.30L37.56,173.34L38.46,171.42L39.54,169.55L40.81,167.71L42.25,165.92L43.85,164.18L45.62,162.49L47.53,160.85L49.59,159.27L51.79,157.75Z" fill="#00b050" stroke="#00b050" stroke-width="0.3"/>
<path d="M120.80,174.00L51.79,157.75L53.95,156.38L56.22,155.07L58.60,153.81L61.06,152.61L63.62,151.46L66.26,150.37L68.98,149.33L71.78,148.36L74.64,147.45Z" fill="#f020c0" stroke="#f020c0" stroke-width="0.3"/>
<path d="M120.80,174.00L74.64,147.45L77.44,146.62L80.30,145.86L83.21,145.14L86.16,144.49L89.15,143.89Z" fill="#8064a2" stroke="#7a2a48" stroke-width="0.8"/>
<path d="M120.80,174.00L89.15,143.89L90.30,143.68L91.45,143.47Z" fill="#4c0000" stroke="#4c0000" stroke-width="0.3"/>
<path d="M120.80,174.00L91.45,143.47L94.62,142.95L97.82,142.50L101.05,142.10L104.31,141.76L107.58,141.49L110.87,141.28L114.17,141.12L117.49,141.03L120.80,141.00Z" fill="#c4bd97" stroke="#c4bd97" stroke-width="0.3"/>
<text x="271" y="133.5" font-size="17.5" font-weight="bold" fill="#111" text-anchor="start" letter-spacing="-0.6" >15+</text>
<rect x="217" y="168" width="7" height="7" fill="#1c1c80" />
<text x="227" y="175" font-size="11" font-weight="normal" fill="#333" text-anchor="start" letter-spacing="0.4" >Nova Group</text>
<rect x="217" y="182" width="7" height="7" fill="#ff0000" />
<text x="227" y="189" font-size="11" font-weight="normal" fill="#333" text-anchor="start" letter-spacing="0.4" >ČT celkem</text>
<rect x="217" y="196" width="7" height="7" fill="#00b050" />
<text x="227" y="203" font-size="11" font-weight="normal" fill="#333" text-anchor="start" letter-spacing="0.4" >Prima Group</text>
<rect x="217" y="209" width="7" height="7" fill="#f020c0" />
<text x="227" y="216" font-size="11" font-weight="normal" fill="#333" text-anchor="start" letter-spacing="0.4" >Barrandov Group</text>
<rect x="217" y="223" width="7" height="7" fill="#8064a2" />
<text x="227" y="230" font-size="11" font-weight="normal" fill="#333" text-anchor="start" letter-spacing="0.4" >Atmedia</text>
<rect x="217" y="237" width="7" height="7" fill="#4c0000" />
<text x="227" y="244" font-size="11" font-weight="normal" fill="#333" text-anchor="start" letter-spacing="0.4" >Óčko</text>
<rect x="217" y="251" width="7" height="7" fill="#c4bd97" />
<text x="227" y="258" font-size="11" font-weight="normal" fill="#333" text-anchor="start" letter-spacing="0.4" >ostatní</text>
<text x="175" y="142" font-size="11" font-weight="bold" fill="#111" text-anchor="start" letter-spacing="0.2" >30,47</text>
<path d="M182.5,145.5L182.5,154" fill="none" stroke="#333" stroke-width="1"/>
<text x="15" y="148" font-size="11" font-weight="bold" fill="#111" text-anchor="start" letter-spacing="0.2" >6,68</text>
<path d="M40.5,148.5L47,148.5L63,152" fill="none" stroke="#333" stroke-width="1"/>
<text x="50" y="135" font-size="11" font-weight="bold" fill="#111" text-anchor="start" letter-spacing="0.2" >3,56</text>
<path d="M75,136.5L80.5,136.5L82,144.5" fill="none" stroke="#333" stroke-width="1"/>
<text x="84" y="126" font-size="11" font-weight="bold" fill="#111" text-anchor="start" letter-spacing="0.2" >0,54</text>
<path d="M90.5,130.5L90.5,143.5" fill="none" stroke="#333" stroke-width="1"/>
<text x="118" y="126" font-size="11" font-weight="bold" fill="#111" text-anchor="start" letter-spacing="0.2" >6,64</text>
<path d="M116,126L111.5,126L105,142" fill="none" stroke="#333" stroke-width="1"/>
<text x="10.5" y="217.5" font-size="11" font-weight="bold" fill="#111" text-anchor="start" letter-spacing="0.2" >19,07</text>
<path d="M36.5,176L36.5,206" fill="none" stroke="#333" stroke-width="1"/>
<text x="113.5" y="267.5" font-size="11" font-weight="bold" fill="#111" text-anchor="start" letter-spacing="0.2" >32,40</text>
<path d="M138.5,238L138.5,255.5" fill="none" stroke="#333" stroke-width="1"/>
<path d="M370.68,181.81L370.58,180.60L370.57,179.39L370.63,178.20L370.77,177.01L370.98,175.83L371.27,174.66L371.63,173.50L372.06,172.35L372.56,171.22L373.13,170.10L373.76,168.99L374.46,167.90L375.22,166.82L376.04,165.77L376.92,164.72L377.86,163.70L378.85,162.69L379.90,161.71L381.01,160.74L382.16,159.79L383.36,158.86L384.61,157.95L385.91,157.06L387.26,156.20L388.64,155.35L390.07,154.53L391.54,153.73L393.05,152.95L394.59,152.19L396.17,151.46L397.79,150.74L399.44,150.06L401.12,149.39L402.83,148.75L404.57,148.13L406.34,147.54L408.13,146.96L409.95,146.42L411.79,145.89L413.66,145.39L415.55,144.92L417.45,144.47L419.38,144.04L421.33,143.63L423.29,143.26L425.27,142.90L427.26,142.57L429.27,142.26L431.28,141.98L433.31,141.73L435.35,141.49L437.40,141.28L439.46,141.10L441.52,140.94L443.59,140.81L445.67,140.70L447.75,140.61L449.83,140.55L451.91,140.51L454.00,140.50L456.09,140.51L458.17,140.55L460.25,140.61L462.33,140.70L464.41,140.81L466.48,140.94L468.54,141.10L470.60,141.28L472.65,141.49L474.69,141.73L476.72,141.98L478.73,142.26L480.74,142.57L482.73,142.90L484.71,143.26L486.67,143.63L488.62,144.04L490.55,144.47L492.45,144.92L494.34,145.39L496.21,145.89L498.05,146.42L499.87,146.96L501.66,147.54L503.43,148.13L505.17,148.75L506.88,149.39L508.56,150.06L510.21,150.74L511.83,151.46L513.41,152.19L514.95,152.95L516.46,153.73L517.93,154.53L519.36,155.35L520.74,156.20L522.09,157.06L523.39,157.95L524.64,158.86L525.84,159.79L526.99,160.74L528.10,161.71L529.15,162.69L530.14,163.70L531.08,164.72L531.96,165.77L532.78,166.82L533.54,167.90L534.24,168.99L534.87,170.10L535.44,171.22L535.94,172.35L536.37,173.50L536.73,174.66L537.02,175.83L537.23,177.01L537.37,178.20L537.43,179.39L537.42,180.60L537.32,181.81L535.41,198.92L535.11,200.81L534.64,202.71L533.99,204.62L533.16,206.51L532.14,208.41L530.94,210.29L529.56,212.15L527.98,213.99L526.22,215.80L524.27,217.58L522.14,219.33L519.82,221.02L517.33,222.67L514.65,224.26L511.81,225.79L508.80,227.25L505.62,228.64L502.29,229.95L498.82,231.18L495.21,232.32L491.47,233.37L487.62,234.32L483.66,235.16L479.60,235.91L475.46,236.54L471.25,237.06L466.99,237.47L462.68,237.76L458.35,237.94L454.00,238.00L449.65,237.94L445.32,237.76L441.01,237.47L436.75,237.06L432.54,236.54L428.40,235.91L424.34,235.16L420.38,234.32L416.53,233.37L412.79,232.32L409.18,231.18L405.71,229.95L402.38,228.64L399.20,227.25L396.19,225.79L393.35,224.26L390.67,222.67L388.18,221.02L385.86,219.33L383.73,217.58L381.78,215.80L380.02,213.99L378.44,212.15L377.06,210.29L375.86,208.41L374.84,206.51L374.01,204.62L373.36,202.71L372.89,200.81L372.59,198.92Z" fill="none" stroke="#ffffff" stroke-opacity="0.6" stroke-width="2"/>
<linearGradient id="pw4" gradientUnits="userSpaceOnUse" x1="514.66" y1="0" x2="537.32" y2="0"><stop offset="0.0000" stop-color="#0c0c37"/><stop offset="0.1139" stop-color="#0c0c36"/><stop offset="0.2213" stop-color="#0c0c35"/><stop offset="0.3220" stop-color="#0b0b34"/><stop offset="0.4159" stop-color="#0b0b33"/><stop offset="0.5028" stop-color="#0b0b32"/><stop offset="0.5828" stop-color="#0b0b31"/><stop offset="0.6558" stop-color="#0b0b30"/><stop offset="0.7217" stop-color="#0a0a30"/><stop offset="0.7806" stop-color="#0a0a2f"/><stop offset="0.8325" stop-color="#0a0a2e"/><stop offset="0.8774" stop-color="#0a0a2e"/><stop offset="0.9154" stop-color="#0a0a2d"/><stop offset="0.9465" stop-color="#0a0a2c"/><stop offset="0.9710" stop-color="#0a0a2c"/><stop offset="0.9887" stop-color="#0a0a2c"/><stop offset="1.0000" stop-color="#09092b"/></linearGradient>
<path d="M537.32,181.81L536.99,183.82L536.43,185.84L535.64,187.86L534.61,189.87L533.35,191.88L531.85,193.86L530.11,195.83L528.13,197.76L525.91,199.66L523.45,201.50L520.75,203.30L517.82,205.03L514.66,206.70L513.11,225.11L516.20,223.36L519.07,221.54L521.71,219.65L524.13,217.71L526.31,215.72L528.26,213.69L529.97,211.62L531.45,209.53L532.70,207.42L533.71,205.30L534.50,203.17L535.06,201.04L535.41,198.92Z" fill="url(#pw4)"/>
<linearGradient id="pw5" gradientUnits="userSpaceOnUse" x1="379.81" y1="0" x2="514.66" y2="0"><stop offset="0.0000" stop-color="#d00000"/><stop offset="0.0354" stop-color="#cc0000"/><stop offset="0.0781" stop-color="#c70000"/><stop offset="0.1277" stop-color="#c20000"/><stop offset="0.1839" stop-color="#bc0000"/><stop offset="0.2458" stop-color="#b60000"/><stop offset="0.3127" stop-color="#af0000"/><stop offset="0.3836" stop-color="#a80000"/><stop offset="0.4573" stop-color="#a20000"/><stop offset="0.5326" stop-color="#9b0000"/><stop offset="0.6082" stop-color="#940000"/><stop offset="0.6828" stop-color="#8d0000"/><stop offset="0.7551" stop-color="#860000"/><stop offset="0.8240" stop-color="#7f0000"/><stop offset="0.8883" stop-color="#790000"/><stop offset="0.9473" stop-color="#730000"/><stop offset="1.0000" stop-color="#6d0000"/></linearGradient>
<path d="M514.66,206.70L511.22,208.32L507.55,209.85L503.68,211.29L499.60,212.62L495.35,213.84L490.92,214.95L486.35,215.93L481.63,216.78L476.81,217.51L471.88,218.09L466.88,218.53L461.82,218.83L456.73,218.98L451.62,218.98L446.53,218.84L441.47,218.55L436.46,218.12L431.53,217.55L426.70,216.84L421.97,215.99L417.39,215.02L412.95,213.92L408.68,212.71L404.60,211.38L400.71,209.95L397.03,208.43L393.57,206.81L390.34,205.12L387.34,203.35L384.58,201.52L382.07,199.64L379.81,197.70L381.63,215.66L383.85,217.69L386.32,219.67L389.02,221.60L391.95,223.45L395.11,225.23L398.50,226.92L402.09,228.52L405.89,230.02L409.87,231.41L414.03,232.68L418.35,233.83L422.82,234.85L427.42,235.74L432.13,236.48L436.93,237.08L441.81,237.53L446.73,237.84L451.69,237.98L456.66,237.98L461.61,237.82L466.53,237.51L471.40,237.05L476.20,236.44L480.90,235.68L485.49,234.79L489.95,233.76L494.26,232.60L498.41,231.32L502.38,229.92L506.17,228.41L509.75,226.81L513.11,225.11Z" fill="url(#pw5)"/>
<linearGradient id="pw6" gradientUnits="userSpaceOnUse" x1="370.68" y1="0" x2="379.81" y2="0"><stop offset="0.0000" stop-color="#009845"/><stop offset="0.0152" stop-color="#009745"/><stop offset="0.0365" stop-color="#009745"/><stop offset="0.0639" stop-color="#009745"/><stop offset="0.0974" stop-color="#009644"/><stop offset="0.1373" stop-color="#009644"/><stop offset="0.1834" stop-color="#009644"/><stop offset="0.2359" stop-color="#009544"/><stop offset="0.2947" stop-color="#009544"/><stop offset="0.3601" stop-color="#009443"/><stop offset="0.4319" stop-color="#009443"/><stop offset="0.5102" stop-color="#009343"/><stop offset="0.5950" stop-color="#009243"/><stop offset="0.6864" stop-color="#009242"/><stop offset="0.7844" stop-color="#009142"/><stop offset="0.8889" stop-color="#009142"/><stop offset="1.0000" stop-color="#009041"/></linearGradient>
<path d="M379.81,197.70L377.84,195.78L376.11,193.82L374.62,191.84L373.37,189.84L372.35,187.83L371.57,185.82L371.01,183.81L370.68,181.81L372.59,198.92L372.93,201.03L373.49,203.15L374.28,205.27L375.29,207.39L376.53,209.49L377.99,211.58L379.70,213.63L381.63,215.66Z" fill="url(#pw6)"/>
<path d="M454.00,172.50L454.00,140.50L457.61,140.54L461.22,140.65L464.82,140.83L468.40,141.09L471.97,141.42L475.50,141.83L479.00,142.30L482.47,142.86L485.89,143.48L489.26,144.18L492.58,144.95L495.83,145.79L499.02,146.70L502.14,147.69L505.17,148.75L508.12,149.88L510.97,151.07L513.72,152.34L516.36,153.67L518.89,155.07L521.29,156.54L523.55,158.07L525.68,159.66L527.66,161.32L529.48,163.03L531.14,164.79L532.62,166.61L533.92,168.48L535.03,170.39L535.94,172.35L536.64,174.35L537.13,176.38L537.39,178.43L537.42,180.52L537.21,182.62L536.76,184.73L536.06,186.85L535.10,188.97L533.88,191.08L532.40,193.17L530.66,195.24L528.65,197.28L526.37,199.28L523.83,201.23L521.03,203.12L517.97,204.95L514.66,206.70Z" fill="#1c1c80" stroke="#1c1c80" stroke-width="0.3"/>
<path d="M454.00,172.50L514.66,206.70L511.22,208.32L507.55,209.85L503.68,211.29L499.60,212.62L495.35,213.84L490.92,214.95L486.35,215.93L481.63,216.78L476.81,217.51L471.88,218.09L466.88,218.53L461.82,218.83L456.73,218.98L451.62,218.98L446.53,218.84L441.47,218.55L436.46,218.12L431.53,217.55L426.70,216.84L421.97,215.99L417.39,215.02L412.95,213.92L408.68,212.71L404.60,211.38L400.71,209.95L397.03,208.43L393.57,206.81L390.34,205.12L387.34,203.35L384.58,201.52L382.07,199.64L379.81,197.70Z" fill="#ff0000" stroke="#ff0000" stroke-width="0.3"/>
<path d="M454.00,172.50L379.81,197.70L377.77,195.71L376.00,193.68L374.47,191.63L373.21,189.55L372.20,187.47L371.43,185.39L370.91,183.31L370.62,181.24L370.57,179.19L370.75,177.15L371.14,175.15L371.74,173.17L372.55,171.23L373.56,169.33L374.75,167.47L376.13,165.66L377.67,163.90L379.38,162.19L381.25,160.54L383.26,158.94L385.41,157.40L387.70,155.92L390.11,154.51L392.64,153.16Z" fill="#00b050" stroke="#00b050" stroke-width="0.3"/>
<path d="M454.00,172.50L392.64,153.16L394.96,152.01L397.37,150.92L399.86,149.89L402.41,148.90L405.03,147.97L407.72,147.09Z" fill="#f020c0" stroke="#f020c0" stroke-width="0.3"/>
<path d="M454.00,172.50L407.72,147.09L410.36,146.30L413.04,145.55L415.77,144.86L418.55,144.22Z" fill="#8064a2" stroke="#7a2a48" stroke-width="0.8"/>
<path d="M454.00,172.50L418.55,144.22L420.24,143.86L421.95,143.51Z" fill="#4c0000" stroke="#4c0000" stroke-width="0.3"/>
<path d="M454.00,172.50L421.95,143.51L425.04,142.94L428.17,142.43L431.33,141.98L434.52,141.59L437.73,141.25L440.96,140.98L444.21,140.77L447.46,140.62L450.73,140.53L454.00,140.50Z" fill="#c4bd97" stroke="#c4bd97" stroke-width="0.3"/>
<text x="579.3" y="132" font-size="17.5" font-weight="bold" fill="#111" text-anchor="start" letter-spacing="0.4" >15-54</text>
<rect x="541.2" y="170" width="7" height="7" fill="#1c1c80" />
<text x="552.4" y="177" font-size="11" font-weight="normal" fill="#333" text-anchor="start" letter-spacing="0.4" >Nova Group</text>
<rect x="541.2" y="184" width="7" height="7" fill="#ff0000" />
<text x="552.4" y="191" font-size="11" font-weight="normal" fill="#333" text-anchor="start" letter-spacing="0.4" >ČT celkem</text>
<rect x="541.2" y="199" width="7" height="7" fill="#00b050" />
<text x="552.4" y="206" font-size="11" font-weight="normal" fill="#333" text-anchor="start" letter-spacing="0.4" >Prima Group</text>
<rect x="541.2" y="213" width="7" height="7" fill="#f020c0" />
<text x="552.4" y="220" font-size="11" font-weight="normal" fill="#333" text-anchor="start" letter-spacing="0.4" >Barrandov Group</text>
<rect x="541.2" y="227" width="7" height="7" fill="#8064a2" />
<text x="552.4" y="234" font-size="11" font-weight="normal" fill="#333" text-anchor="start" letter-spacing="0.4" >Atmedia</text>
<rect x="541.2" y="242" width="7" height="7" fill="#4c0000" />
<text x="552.4" y="249" font-size="11" font-weight="normal" fill="#333" text-anchor="start" letter-spacing="0.4" >Óčko</text>
<rect x="541.2" y="256" width="7" height="7" fill="#c4bd97" />
<text x="552.4" y="263" font-size="11" font-weight="normal" fill="#333" text-anchor="start" letter-spacing="0.4" >ostatní</text>
<text x="519" y="146.5" font-size="11" font-weight="bold" fill="#111" text-anchor="start" letter-spacing="0.2" >38,65</text>
<path d="M526.5,149L526.5,160.5" fill="none" stroke="#333" stroke-width="1"/>
<text x="364" y="127" font-size="11" font-weight="bold" fill="#111" text-anchor="start" letter-spacing="0.2" >2,75</text>
<path d="M390,126.5L395.3,126.5L413,144.5" fill="none" stroke="#333" stroke-width="1"/>
<text x="372.7" y="144.5" font-size="11" font-weight="bold" fill="#111" text-anchor="start" letter-spacing="0.2" >4,29</text>
<text x="410" y="131.5" font-size="11" font-weight="bold" fill="#111" text-anchor="start" letter-spacing="0.2" >0,83</text>
<path d="M420.5,134L420.5,143.5" fill="none" stroke="#333" stroke-width="1"/>
<text x="436.2" y="132.5" font-size="11" font-weight="bold" fill="#111" text-anchor="start" letter-spacing="0.2" >7,44</text>
<text x="335.5" y="190.5" font-size="11" font-weight="bold" fill="#111" text-anchor="start" letter-spacing="0.2" >19,40</text>
<path d="M367.5,191.5L371.5,173" fill="none" stroke="#333" stroke-width="1"/>
<text x="383" y="260" font-size="11" font-weight="bold" fill="#111" text-anchor="start" letter-spacing="0.2" >25,57</text>
<path d="M414.6,260.5L419.8,260.5L442.3,236.2" fill="none" stroke="#333" stroke-width="1"/>
<path d="M34.44,355.88L34.34,354.64L34.32,353.41L34.38,352.19L34.52,350.97L34.73,349.76L35.02,348.56L35.38,347.38L35.82,346.21L36.32,345.04L36.89,343.90L37.53,342.76L38.23,341.65L38.99,340.55L39.82,339.46L40.71,338.39L41.66,337.34L42.66,336.31L43.72,335.30L44.83,334.31L45.99,333.33L47.21,332.38L48.47,331.45L49.79,330.54L51.14,329.65L52.54,328.78L53.99,327.93L55.47,327.11L57.00,326.31L58.56,325.53L60.16,324.78L61.80,324.04L63.46,323.34L65.17,322.65L66.90,321.99L68.66,321.36L70.45,320.74L72.27,320.16L74.11,319.59L75.98,319.05L77.87,318.54L79.79,318.05L81.72,317.58L83.67,317.14L85.65,316.73L87.64,316.34L89.64,315.97L91.66,315.63L93.70,315.32L95.75,315.03L97.81,314.76L99.87,314.52L101.95,314.31L104.04,314.12L106.14,313.95L108.24,313.82L110.34,313.70L112.45,313.61L114.57,313.55L116.68,313.51L118.80,313.50L120.92,313.51L123.03,313.55L125.15,313.61L127.26,313.70L129.36,313.82L131.46,313.95L133.56,314.12L135.65,314.31L137.73,314.52L139.79,314.76L141.85,315.03L143.90,315.32L145.94,315.63L147.96,315.97L149.96,316.34L151.95,316.73L153.93,317.14L155.88,317.58L157.81,318.05L159.73,318.54L161.62,319.05L163.49,319.59L165.33,320.16L167.15,320.74L168.94,321.36L170.70,321.99L172.43,322.65L174.14,323.34L175.80,324.04L177.44,324.78L179.04,325.53L180.60,326.31L182.13,327.11L183.61,327.93L185.06,328.78L186.46,329.65L187.81,330.54L189.13,331.45L190.39,332.38L191.61,333.33L192.77,334.31L193.88,335.30L194.94,336.31L195.94,337.34L196.89,338.39L197.78,339.46L198.61,340.55L199.37,341.65L200.07,342.76L200.71,343.90L201.28,345.04L201.78,346.21L202.22,347.38L202.58,348.56L202.87,349.76L203.08,350.97L203.22,352.19L203.28,353.41L203.26,354.64L203.16,355.88L201.25,373.06L200.95,375.00L200.47,376.94L199.81,378.89L198.96,380.83L197.93,382.77L196.71,384.69L195.30,386.60L193.71,388.48L191.92,390.34L189.94,392.16L187.78,393.94L185.43,395.67L182.90,397.35L180.19,398.98L177.30,400.54L174.25,402.03L171.04,403.45L167.67,404.79L164.15,406.04L160.49,407.21L156.71,408.27L152.81,409.24L148.80,410.11L144.69,410.86L140.51,411.51L136.25,412.04L131.94,412.46L127.58,412.76L123.20,412.94L118.80,413.00L114.40,412.94L110.02,412.76L105.66,412.46L101.35,412.04L97.09,411.51L92.91,410.86L88.80,410.11L84.79,409.24L80.89,408.27L77.11,407.21L73.45,406.04L69.93,404.79L66.56,403.45L63.35,402.03L60.30,400.54L57.41,398.98L54.70,397.35L52.17,395.67L49.82,393.94L47.66,392.16L45.68,390.34L43.89,388.48L42.30,386.60L40.89,384.69L39.67,382.77L38.64,380.83L37.79,378.89L37.13,376.94L36.65,375.00L36.35,373.06Z" fill="none" stroke="#ffffff" stroke-opacity="0.6" stroke-width="2"/>
<linearGradient id="pw7" gradientUnits="userSpaceOnUse" x1="196.60" y1="0" x2="203.16" y2="0"><stop offset="0.0000" stop-color="#0a0a30"/><stop offset="0.1090" stop-color="#0a0a2f"/><stop offset="0.2116" stop-color="#0a0a2f"/><stop offset="0.3080" stop-color="#0a0a2e"/><stop offset="0.3981" stop-color="#0a0a2e"/><stop offset="0.4819" stop-color="#0a0a2e"/><stop offset="0.5595" stop-color="#0a0a2e"/><stop offset="0.6309" stop-color="#0a0a2d"/><stop offset="0.6961" stop-color="#0a0a2d"/><stop offset="0.7552" stop-color="#0a0a2d"/><stop offset="0.8081" stop-color="#0a0a2c"/><stop offset="0.8550" stop-color="#0a0a2c"/><stop offset="0.8959" stop-color="#0a0a2c"/><stop offset="0.9307" stop-color="#0a0a2c"/><stop offset="0.9597" stop-color="#0a0a2c"/><stop offset="0.9828" stop-color="#09092b"/><stop offset="1.0000" stop-color="#09092b"/></linearGradient>
<path d="M203.16,355.88L202.85,357.82L202.33,359.77L201.61,361.72L200.68,363.67L199.53,365.61L198.17,367.53L196.60,369.44L194.74,387.30L196.29,385.30L197.63,383.28L198.76,381.24L199.69,379.20L200.41,377.15L200.93,375.10L201.25,373.06Z" fill="url(#pw7)"/>
<linearGradient id="pw8" gradientUnits="userSpaceOnUse" x1="47.25" y1="0" x2="196.60" y2="0"><stop offset="0.0000" stop-color="#cd0000"/><stop offset="0.0436" stop-color="#c80000"/><stop offset="0.0956" stop-color="#c20000"/><stop offset="0.1554" stop-color="#bb0000"/><stop offset="0.2220" stop-color="#b40000"/><stop offset="0.2941" stop-color="#ac0000"/><stop offset="0.3704" stop-color="#a40000"/><stop offset="0.4490" stop-color="#9c0000"/><stop offset="0.5284" stop-color="#940000"/><stop offset="0.6066" stop-color="#8c0000"/><stop offset="0.6820" stop-color="#840000"/><stop offset="0.7529" stop-color="#7d0000"/><stop offset="0.8179" stop-color="#760000"/><stop offset="0.8759" stop-color="#6f0000"/><stop offset="0.9259" stop-color="#690000"/><stop offset="0.9674" stop-color="#630000"/><stop offset="1.0000" stop-color="#5f0000"/></linearGradient>
<path d="M196.60,369.44L194.60,371.52L192.34,373.56L189.82,375.55L187.03,377.48L183.99,379.35L180.70,381.14L177.16,382.85L173.40,384.47L169.41,385.98L165.21,387.38L160.82,388.67L156.26,389.83L151.53,390.86L146.66,391.75L141.66,392.50L136.57,393.10L131.39,393.55L126.16,393.85L120.90,393.99L115.63,393.97L110.37,393.80L105.15,393.47L99.99,392.99L94.92,392.36L89.95,391.58L85.10,390.66L80.40,389.60L75.87,388.42L71.52,387.11L67.36,385.68L63.42,384.15L59.70,382.51L56.22,380.79L52.97,378.98L49.98,377.10L47.25,375.15L49.01,393.29L51.69,395.33L54.61,397.30L57.79,399.19L61.19,401.00L64.83,402.70L68.68,404.31L72.73,405.80L76.98,407.17L81.40,408.41L85.98,409.51L90.70,410.47L95.54,411.29L100.49,411.95L105.51,412.45L110.59,412.79L115.71,412.97L120.85,412.99L125.97,412.84L131.06,412.53L136.10,412.06L141.06,411.43L145.93,410.65L150.67,409.72L155.28,408.64L159.74,407.43L164.02,406.09L168.12,404.62L172.01,403.04L175.69,401.35L179.14,399.56L182.36,397.69L185.34,395.73L188.07,393.71L190.55,391.62L192.77,389.48L194.74,387.30Z" fill="url(#pw8)"/>
<linearGradient id="pw9" gradientUnits="userSpaceOnUse" x1="34.44" y1="0" x2="47.25" y2="0"><stop offset="0.0000" stop-color="#009845"/><stop offset="0.0137" stop-color="#009745"/><stop offset="0.0336" stop-color="#009745"/><stop offset="0.0599" stop-color="#009744"/><stop offset="0.0925" stop-color="#009644"/><stop offset="0.1316" stop-color="#009644"/><stop offset="0.1772" stop-color="#009544"/><stop offset="0.2294" stop-color="#009544"/><stop offset="0.2882" stop-color="#009443"/><stop offset="0.3537" stop-color="#009343"/><stop offset="0.4259" stop-color="#009343"/><stop offset="0.5048" stop-color="#009242"/><stop offset="0.5904" stop-color="#009142"/><stop offset="0.6828" stop-color="#009042"/><stop offset="0.7818" stop-color="#008f41"/><stop offset="0.8876" stop-color="#008f41"/><stop offset="1.0000" stop-color="#008e40"/></linearGradient>
<path d="M47.25,375.15L44.99,373.33L42.94,371.47L41.12,369.57L39.51,367.65L38.13,365.70L36.96,363.75L36.02,361.78L35.28,359.81L34.76,357.84L34.44,355.88L36.35,373.06L36.67,375.12L37.20,377.19L37.94,379.26L38.88,381.33L40.03,383.38L41.40,385.42L42.98,387.44L44.78,389.43L46.78,391.38L49.01,393.29Z" fill="url(#pw9)"/>
<path d="M118.80,346.50L118.80,313.50L122.46,313.54L126.12,313.65L129.76,313.84L133.39,314.10L137.00,314.45L140.58,314.86L144.13,315.35L147.64,315.92L151.10,316.56L154.51,317.27L157.87,318.06L161.17,318.93L164.40,319.87L167.55,320.88L170.62,321.96L173.60,323.12L176.48,324.34L179.26,325.64L181.93,327.00L184.49,328.44L186.91,329.94L189.20,331.50L191.36,333.13L193.36,334.82L195.20,336.57L196.87,338.37L198.37,340.23L199.69,342.14L200.81,344.09L201.74,346.09L202.45,348.13L202.95,350.20L203.23,352.30L203.27,354.42L203.08,356.56L202.64,358.72L201.95,360.88L201.00,363.04L199.80,365.19L198.33,367.33L196.60,369.44Z" fill="#1c1c80" stroke="#1c1c80" stroke-width="0.3"/>
<path d="M118.80,346.50L196.60,369.44L194.60,371.52L192.34,373.56L189.82,375.55L187.03,377.48L183.99,379.35L180.70,381.14L177.16,382.85L173.40,384.47L169.41,385.98L165.21,387.38L160.82,388.67L156.26,389.83L151.53,390.86L146.66,391.75L141.66,392.50L136.57,393.10L131.39,393.55L126.16,393.85L120.90,393.99L115.63,393.97L110.37,393.80L105.15,393.47L99.99,392.99L94.92,392.36L89.95,391.58L85.10,390.66L80.40,389.60L75.87,388.42L71.52,387.11L67.36,385.68L63.42,384.15L59.70,382.51L56.22,380.79L52.97,378.98L49.98,377.10L47.25,375.15Z" fill="#ff0000" stroke="#ff0000" stroke-width="0.3"/>
<path d="M118.80,346.50L47.25,375.15L44.84,373.20L42.68,371.21L40.78,369.18L39.12,367.12L37.71,365.04L36.55,362.95L35.64,360.85L34.97,358.74L34.54,356.65L34.34,354.56L34.36,352.49L34.60,350.45L35.06,348.43L35.72,346.44L36.59,344.49L37.64,342.58L38.88,340.71L40.29,338.89L41.87,337.11L43.61,335.40L45.51,333.73L47.55,332.12L49.73,330.58L52.03,329.09Z" fill="#00b050" stroke="#00b050" stroke-width="0.3"/>
<path d="M118.80,346.50L52.03,329.09L54.38,327.71L56.85,326.39L59.41,325.13L62.07,323.93L64.81,322.79L67.65,321.72L70.56,320.71L73.54,319.76Z" fill="#f020c0" stroke="#f020c0" stroke-width="0.3"/>
<path d="M118.80,346.50L73.54,319.76L76.48,318.91L79.49,318.12L82.55,317.39L85.65,316.73Z" fill="#8064a2" stroke="#7a2a48" stroke-width="0.8"/>
<path d="M118.80,346.50L85.65,316.73L86.91,316.48L88.17,316.24Z" fill="#4c0000" stroke="#4c0000" stroke-width="0.3"/>
<path d="M118.80,346.50L88.17,316.24L91.47,315.66L94.80,315.16L98.17,314.72L101.57,314.35L104.99,314.04L108.42,313.80L111.88,313.64L115.34,313.53L118.80,313.50Z" fill="#c4bd97" stroke="#c4bd97" stroke-width="0.3"/>
<text x="259.2" y="305" font-size="15" font-weight="bold" fill="#111" text-anchor="start" letter-spacing="0.5" >15-69</text>
<rect x="212" y="332" width="7" height="7" fill="#1c1c80" />
<text x="222" y="339" font-size="11" font-weight="normal" fill="#333" text-anchor="start" letter-spacing="0.4" >Nova Group</text>
<rect x="212" y="346" width="7" height="7" fill="#ff0000" />
<text x="222" y="353" font-size="11" font-weight="normal" fill="#333" text-anchor="start" letter-spacing="0.4" >ČT celkem</text>
<rect x="212" y="360" width="7" height="7" fill="#00b050" />
<text x="222" y="367" font-size="11" font-weight="normal" fill="#333" text-anchor="start" letter-spacing="0.4" >Prima Group</text>
<rect x="212" y="374" width="7" height="7" fill="#f020c0" />
<text x="222" y="381" font-size="11" font-weight="normal" fill="#333" text-anchor="start" letter-spacing="0.4" >Barrandov Group</text>
<rect x="212" y="388" width="7" height="7" fill="#8064a2" />
<text x="222" y="395" font-size="11" font-weight="normal" fill="#333" text-anchor="start" letter-spacing="0.4" >Atmedia</text>
<rect x="212" y="402" width="7" height="7" fill="#4c0000" />
<text x="222" y="409" font-size="11" font-weight="normal" fill="#333" text-anchor="start" letter-spacing="0.4" >Óčko</text>
<rect x="212" y="416" width="7" height="7" fill="#c4bd97" />
<text x="222" y="423" font-size="11" font-weight="normal" fill="#333" text-anchor="start" letter-spacing="0.4" >ostatní</text>
<text x="173.7" y="314" font-size="11" font-weight="bold" fill="#111" text-anchor="start" letter-spacing="0.2" >33,70</text>
<path d="M187.5,317L187.5,328" fill="none" stroke="#333" stroke-width="1"/>
<text x="32" y="323.5" font-size="11" font-weight="bold" fill="#111" text-anchor="start" letter-spacing="0.2" >6,2</text>
<path d="M50,323.5L61,323.5" fill="none" stroke="#333" stroke-width="1"/>
<text x="54.6" y="305" font-size="11" font-weight="bold" fill="#111" text-anchor="start" letter-spacing="0.2" >3,0</text>
<path d="M71.5,305.5L77.7,305.5L78.3,315.8" fill="none" stroke="#333" stroke-width="1"/>
<text x="81.4" y="305" font-size="11" font-weight="bold" fill="#111" text-anchor="start" letter-spacing="0.2" >0,6</text>
<path d="M85.5,306L85.5,315" fill="none" stroke="#333" stroke-width="1"/>
<text x="108" y="305" font-size="11" font-weight="bold" fill="#111" text-anchor="start" letter-spacing="0.2" >7,0</text>
<path d="M107.5,304.5L101.6,313.7" fill="none" stroke="#333" stroke-width="1"/>
<text x="15.5" y="400" font-size="11" font-weight="bold" fill="#111" text-anchor="start" letter-spacing="0.2" >19,2</text>
<path d="M34.5,349.6L34.5,388" fill="none" stroke="#333" stroke-width="1"/>
<text x="104.8" y="437" font-size="11" font-weight="bold" fill="#111" text-anchor="start" letter-spacing="0.2" >29,6</text>
<path d="M125.5,414L125.5,425" fill="none" stroke="#333" stroke-width="1"/>
<path d="M47.50,720.15L47.42,718.99L47.41,717.84L47.47,716.69L47.61,715.56L47.82,714.43L48.10,713.31L48.44,712.20L48.86,711.10L49.34,710.01L49.89,708.94L50.50,707.88L51.17,706.84L51.91,705.81L52.70,704.79L53.55,703.79L54.45,702.81L55.41,701.85L56.42,700.90L57.48,699.97L58.59,699.06L59.75,698.17L60.96,697.30L62.21,696.44L63.50,695.61L64.84,694.80L66.22,694.01L67.63,693.24L69.09,692.49L70.58,691.76L72.10,691.05L73.66,690.37L75.25,689.71L76.87,689.07L78.52,688.45L80.20,687.85L81.91,687.28L83.64,686.73L85.40,686.20L87.18,685.70L88.99,685.22L90.81,684.76L92.65,684.32L94.52,683.91L96.40,683.52L98.29,683.16L100.21,682.82L102.13,682.50L104.07,682.20L106.02,681.93L107.99,681.68L109.96,681.46L111.94,681.26L113.93,681.08L115.93,680.93L117.93,680.80L119.94,680.69L121.95,680.61L123.97,680.55L125.98,680.51L128.00,680.50L130.02,680.51L132.03,680.55L134.05,680.61L136.06,680.69L138.07,680.80L140.07,680.93L142.07,681.08L144.06,681.26L146.04,681.46L148.01,681.68L149.98,681.93L151.93,682.20L153.87,682.50L155.79,682.82L157.71,683.16L159.60,683.52L161.48,683.91L163.35,684.32L165.19,684.76L167.01,685.22L168.82,685.70L170.60,686.20L172.36,686.73L174.09,687.28L175.80,687.85L177.48,688.45L179.13,689.07L180.75,689.71L182.34,690.37L183.90,691.05L185.42,691.76L186.91,692.49L188.37,693.24L189.78,694.01L191.16,694.80L192.50,695.61L193.79,696.44L195.04,697.30L196.25,698.17L197.41,699.06L198.52,699.97L199.58,700.90L200.59,701.85L201.55,702.81L202.45,703.79L203.30,704.79L204.09,705.81L204.83,706.84L205.50,707.88L206.11,708.94L206.66,710.01L207.14,711.10L207.56,712.20L207.90,713.31L208.18,714.43L208.39,715.56L208.53,716.69L208.59,717.84L208.58,718.99L208.50,720.15L206.66,737.29L206.38,739.12L205.92,740.96L205.30,742.80L204.50,744.63L203.52,746.46L202.37,748.28L201.03,750.07L199.51,751.85L197.81,753.60L195.92,755.32L193.86,757.00L191.62,758.64L189.21,760.23L186.62,761.76L183.87,763.24L180.96,764.65L177.89,765.98L174.67,767.25L171.31,768.43L167.82,769.53L164.21,770.54L160.48,771.45L156.65,772.27L152.74,772.98L148.74,773.59L144.67,774.10L140.55,774.49L136.39,774.77L132.20,774.94L128.00,775.00L123.80,774.94L119.61,774.77L115.45,774.49L111.33,774.10L107.26,773.59L103.26,772.98L99.35,772.27L95.52,771.45L91.79,770.54L88.18,769.53L84.69,768.43L81.33,767.25L78.11,765.98L75.04,764.65L72.13,763.24L69.38,761.76L66.79,760.23L64.38,758.64L62.14,757.00L60.08,755.32L58.19,753.60L56.49,751.85L54.97,750.07L53.63,748.28L52.48,746.46L51.50,744.63L50.70,742.80L50.08,740.96L49.62,739.12L49.34,737.29Z" fill="none" stroke="#ffffff" stroke-opacity="0.6" stroke-width="2"/>
<linearGradient id="pw10" gradientUnits="userSpaceOnUse" x1="202.67" y1="0" x2="208.50" y2="0"><stop offset="0.0000" stop-color="#0a0a2f"/><stop offset="0.1091" stop-color="#0a0a2f"/><stop offset="0.2119" stop-color="#0a0a2f"/><stop offset="0.3084" stop-color="#0a0a2e"/><stop offset="0.3986" stop-color="#0a0a2e"/><stop offset="0.4825" stop-color="#0a0a2e"/><stop offset="0.5602" stop-color="#0a0a2d"/><stop offset="0.6316" stop-color="#0a0a2d"/><stop offset="0.6968" stop-color="#0a0a2d"/><stop offset="0.7559" stop-color="#0a0a2d"/><stop offset="0.8088" stop-color="#0a0a2c"/><stop offset="0.8556" stop-color="#0a0a2c"/><stop offset="0.8964" stop-color="#0a0a2c"/><stop offset="0.9312" stop-color="#0a0a2c"/><stop offset="0.9600" stop-color="#0a0a2b"/><stop offset="0.9829" stop-color="#09092b"/><stop offset="1.0000" stop-color="#09092b"/></linearGradient>
<path d="M208.50,720.15L208.22,721.91L207.76,723.68L207.12,725.45L206.29,727.22L205.27,728.98L204.07,730.73L202.67,732.47L200.86,750.28L202.24,748.46L203.43,746.61L204.44,744.75L205.27,742.89L205.91,741.02L206.37,739.15L206.66,737.29Z" fill="url(#pw10)"/>
<linearGradient id="pw11" gradientUnits="userSpaceOnUse" x1="71.70" y1="0" x2="202.67" y2="0"><stop offset="0.0000" stop-color="#ae5307"/><stop offset="0.0563" stop-color="#a85007"/><stop offset="0.1189" stop-color="#a34d06"/><stop offset="0.1867" stop-color="#9d4b06"/><stop offset="0.2589" stop-color="#974806"/><stop offset="0.3340" stop-color="#904506"/><stop offset="0.4110" stop-color="#8a4205"/><stop offset="0.4882" stop-color="#833e05"/><stop offset="0.5644" stop-color="#7d3b05"/><stop offset="0.6382" stop-color="#773805"/><stop offset="0.7083" stop-color="#713604"/><stop offset="0.7736" stop-color="#6b3304"/><stop offset="0.8330" stop-color="#653004"/><stop offset="0.8859" stop-color="#602e04"/><stop offset="0.9316" stop-color="#5c2c04"/><stop offset="0.9697" stop-color="#572a03"/><stop offset="1.0000" stop-color="#542803"/></linearGradient>
<path d="M202.67,732.47L200.87,734.38L198.83,736.26L196.55,738.10L194.04,739.89L191.29,741.63L188.31,743.29L185.10,744.89L181.69,746.41L178.06,747.84L174.24,749.17L170.24,750.40L166.07,751.52L161.74,752.53L157.27,753.42L152.69,754.19L148.00,754.82L143.22,755.32L138.38,755.69L133.50,755.91L128.59,756.00L123.68,755.95L118.79,755.75L113.94,755.42L109.14,754.95L104.43,754.35L99.82,753.62L95.32,752.76L90.96,751.78L86.75,750.68L82.70,749.47L78.84,748.16L75.17,746.76L71.70,745.26L73.13,763.74L76.52,765.31L80.11,766.78L83.88,768.16L87.82,769.42L91.93,770.57L96.18,771.60L100.56,772.50L105.05,773.27L109.64,773.90L114.31,774.39L119.03,774.74L123.79,774.94L128.57,775.00L133.35,774.91L138.10,774.67L142.82,774.29L147.47,773.76L152.03,773.10L156.50,772.30L160.85,771.37L165.07,770.31L169.14,769.13L173.04,767.84L176.77,766.44L180.31,764.94L183.65,763.35L186.78,761.67L189.70,759.92L192.39,758.10L194.86,756.21L197.09,754.28L199.09,752.30L200.86,750.28Z" fill="url(#pw11)"/>
<linearGradient id="pw12" gradientUnits="userSpaceOnUse" x1="47.50" y1="0" x2="71.70" y2="0"><stop offset="0.0000" stop-color="#dc0000"/><stop offset="0.0106" stop-color="#db0000"/><stop offset="0.0279" stop-color="#da0000"/><stop offset="0.0519" stop-color="#d90000"/><stop offset="0.0828" stop-color="#d80000"/><stop offset="0.1206" stop-color="#d70000"/><stop offset="0.1654" stop-color="#d60000"/><stop offset="0.2173" stop-color="#d40000"/><stop offset="0.2763" stop-color="#d30000"/><stop offset="0.3424" stop-color="#d10000"/><stop offset="0.4156" stop-color="#cf0000"/><stop offset="0.4959" stop-color="#ce0000"/><stop offset="0.5831" stop-color="#cc0000"/><stop offset="0.6773" stop-color="#ca0000"/><stop offset="0.7783" stop-color="#c70000"/><stop offset="0.8859" stop-color="#c50000"/><stop offset="1.0000" stop-color="#c30000"/></linearGradient>
<path d="M71.70,745.26L68.56,743.74L65.62,742.15L62.89,740.50L60.38,738.80L58.10,737.04L56.03,735.24L54.19,733.41L52.57,731.55L51.18,729.67L50.01,727.77L49.06,725.87L48.33,723.96L47.81,722.05L47.50,720.15L49.34,737.29L49.66,739.30L50.18,741.31L50.91,743.33L51.85,745.34L53.01,747.34L54.39,749.32L55.98,751.28L57.79,753.21L59.82,755.10L62.06,756.94L64.52,758.74L67.19,760.47L70.06,762.14L73.13,763.74Z" fill="url(#pw12)"/>
<path d="M128.00,711.50L128.00,680.50L131.47,680.54L134.94,680.64L138.40,680.82L141.85,681.06L145.27,681.38L148.67,681.76L152.04,682.22L155.37,682.74L158.66,683.34L161.90,684.00L165.09,684.73L168.22,685.54L171.28,686.41L174.28,687.34L177.20,688.35L180.03,689.42L182.78,690.56L185.42,691.76L187.97,693.03L190.40,694.36L192.72,695.75L194.91,697.20L196.96,698.71L198.88,700.28L200.65,701.90L202.26,703.57L203.71,705.30L204.98,707.07L206.08,708.88L206.99,710.74L207.70,712.63L208.21,714.55L208.51,716.50L208.60,718.48L208.46,720.47L208.09,722.47L207.49,724.48L206.65,726.50L205.57,728.50L204.24,730.49L202.67,732.47Z" fill="#1c1c80" stroke="#1c1c80" stroke-width="0.3"/>
<path d="M128.00,711.50L202.67,732.47L200.87,734.38L198.83,736.26L196.55,738.10L194.04,739.89L191.29,741.63L188.31,743.29L185.10,744.89L181.69,746.41L178.06,747.84L174.24,749.17L170.24,750.40L166.07,751.52L161.74,752.53L157.27,753.42L152.69,754.19L148.00,754.82L143.22,755.32L138.38,755.69L133.50,755.91L128.59,756.00L123.68,755.95L118.79,755.75L113.94,755.42L109.14,754.95L104.43,754.35L99.82,753.62L95.32,752.76L90.96,751.78L86.75,750.68L82.70,749.47L78.84,748.16L75.17,746.76L71.70,745.26Z" fill="#e36c09" stroke="#e36c09" stroke-width="0.3"/>
<path d="M128.00,711.50L71.70,745.26L68.39,743.66L65.32,741.98L62.47,740.23L59.87,738.42L57.52,736.56L55.41,734.66L53.55,732.72L51.94,730.75L50.58,728.75L49.47,726.75L48.60,724.74L47.97,722.72L47.57,720.72L47.41,718.72L47.47,716.75L47.74,714.79L48.23,712.86L48.92,710.97L49.80,709.11L50.87,707.29L52.13,705.51L53.56,703.78L55.15,702.10L56.90,700.47L58.80,698.90L60.84,697.38L63.01,695.92L65.31,694.52L67.73,693.18L70.27,691.91L72.90,690.70L75.64,689.55L78.46,688.47L81.37,687.46L84.36,686.51L87.42,685.63Z" fill="#ff0000" stroke="#ff0000" stroke-width="0.3"/>
<path d="M128.00,711.50L87.42,685.63L90.22,684.90L93.07,684.23L95.96,683.61L98.89,683.05Z" fill="#604a7b" stroke="#604a7b" stroke-width="0.3"/>
<path d="M128.00,711.50L98.89,683.05L102.02,682.51L105.20,682.04L108.40,681.63L111.62,681.29L114.87,681.00L118.14,680.78L121.42,680.63L124.71,680.53L128.00,680.50Z" fill="#c4bd97" stroke="#c4bd97" stroke-width="0.3"/>
<text x="133.8" y="656.5" font-size="15" font-weight="bold" fill="#111" text-anchor="start" letter-spacing="-0.2" >Obchodní skupiny, 15-69</text>
<rect x="236" y="716" width="7" height="7" fill="#1c1c80" />
<text x="246" y="723" font-size="11" font-weight="normal" fill="#333" text-anchor="start" letter-spacing="0.4" >CET 21</text>
<rect x="236" y="732" width="7" height="7" fill="#e36c09" />
<text x="246" y="739" font-size="11" font-weight="normal" fill="#333" text-anchor="start" letter-spacing="0.4" >MediaClub</text>
<rect x="236" y="748" width="7" height="7" fill="#ff0000" />
<text x="246" y="755" font-size="11" font-weight="normal" fill="#333" text-anchor="start" letter-spacing="0.4" >ČT celkem</text>
<rect x="236" y="764" width="7" height="7" fill="#604a7b" />
<text x="246" y="771" font-size="11" font-weight="normal" fill="#333" text-anchor="start" letter-spacing="0.4" >Atmedia</text>
<rect x="236" y="780" width="7" height="7" fill="#c4bd97" />
<text x="246" y="787" font-size="11" font-weight="normal" fill="#333" text-anchor="start" letter-spacing="0.4" >ostatní</text>
<text x="213.8" y="690.5" font-size="11" font-weight="bold" fill="#111" text-anchor="start" letter-spacing="0.2" >33,70</text>
<path d="M212.3,688L206,688L190.8,695" fill="none" stroke="#333" stroke-width="1"/>
<text x="81.7" y="669" font-size="11" font-weight="bold" fill="#111" text-anchor="start" letter-spacing="0.2" >7,01</text>
<path d="M106,669.5L111.5,669.5L113.6,682" fill="none" stroke="#333" stroke-width="1"/>
<text x="50.8" y="682" font-size="11" font-weight="bold" fill="#111" text-anchor="start" letter-spacing="0.2" >2,95</text>
<path d="M76.2,681.5L85.2,681.5L93.5,684" fill="none" stroke="#333" stroke-width="1"/>
<text x="16" y="705" font-size="11" font-weight="bold" fill="#111" text-anchor="start" letter-spacing="0.2" >29,60</text>
<text x="148" y="790.6" font-size="11" font-weight="bold" fill="#111" text-anchor="start" letter-spacing="0.2" >26,71</text>
<path d="M372.42,718.96L372.33,717.79L372.31,716.63L372.38,715.47L372.51,714.32L372.72,713.18L373.00,712.05L373.36,710.92L373.78,709.81L374.26,708.72L374.82,707.63L375.43,706.56L376.11,705.51L376.85,704.47L377.65,703.44L378.51,702.44L379.42,701.45L380.39,700.47L381.41,699.52L382.49,698.58L383.61,697.66L384.78,696.76L386.00,695.89L387.26,695.03L388.57,694.19L389.92,693.37L391.30,692.57L392.73,691.80L394.20,691.04L395.70,690.31L397.24,689.60L398.81,688.91L400.42,688.25L402.05,687.60L403.72,686.98L405.41,686.38L407.13,685.81L408.87,685.25L410.64,684.73L412.44,684.22L414.25,683.73L416.09,683.27L417.95,682.84L419.82,682.42L421.71,682.03L423.62,681.67L425.55,681.32L427.48,681.00L429.44,680.71L431.40,680.43L433.37,680.19L435.36,679.96L437.35,679.76L439.35,679.58L441.36,679.43L443.38,679.30L445.39,679.19L447.42,679.11L449.44,679.05L451.47,679.01L453.50,679.00L455.53,679.01L457.56,679.05L459.58,679.11L461.61,679.19L463.62,679.30L465.64,679.43L467.65,679.58L469.65,679.76L471.64,679.96L473.63,680.19L475.60,680.43L477.56,680.71L479.52,681.00L481.45,681.32L483.38,681.67L485.29,682.03L487.18,682.42L489.05,682.84L490.91,683.27L492.75,683.73L494.56,684.22L496.36,684.73L498.13,685.25L499.87,685.81L501.59,686.38L503.28,686.98L504.95,687.60L506.58,688.25L508.19,688.91L509.76,689.60L511.30,690.31L512.80,691.04L514.27,691.80L515.70,692.57L517.08,693.37L518.43,694.19L519.74,695.03L521.00,695.89L522.22,696.76L523.39,697.66L524.51,698.58L525.59,699.52L526.61,700.47L527.58,701.45L528.49,702.44L529.35,703.44L530.15,704.47L530.89,705.51L531.57,706.56L532.18,707.63L532.74,708.72L533.22,709.81L533.64,710.92L534.00,712.05L534.28,713.18L534.49,714.32L534.62,715.47L534.69,716.63L534.67,717.79L534.58,718.96L532.89,734.26L532.60,736.09L532.15,737.92L531.52,739.76L530.71,741.59L529.72,743.42L528.56,745.23L527.21,747.03L525.67,748.81L523.96,750.56L522.06,752.28L519.98,753.96L517.72,755.60L515.29,757.19L512.68,758.73L509.91,760.20L506.97,761.62L503.87,762.96L500.63,764.23L497.24,765.41L493.72,766.51L490.07,767.52L486.31,768.44L482.44,769.26L478.48,769.98L474.45,770.59L470.34,771.09L466.18,771.49L461.97,771.77L457.74,771.94L453.50,772.00L449.26,771.94L445.03,771.77L440.82,771.49L436.66,771.09L432.55,770.59L428.52,769.98L424.56,769.26L420.69,768.44L416.93,767.52L413.28,766.51L409.76,765.41L406.37,764.23L403.13,762.96L400.03,761.62L397.09,760.20L394.32,758.73L391.71,757.19L389.28,755.60L387.02,753.96L384.94,752.28L383.04,750.56L381.33,748.81L379.79,747.03L378.44,745.23L377.28,743.42L376.29,741.59L375.48,739.76L374.85,737.92L374.40,736.09L374.11,734.26Z" fill="none" stroke="#ffffff" stroke-opacity="0.6" stroke-width="2"/>
<linearGradient id="pw13" gradientUnits="userSpaceOnUse" x1="514.13" y1="0" x2="534.58" y2="0"><stop offset="0.0000" stop-color="#0c0c36"/><stop offset="0.1140" stop-color="#0c0c35"/><stop offset="0.2214" stop-color="#0b0b34"/><stop offset="0.3220" stop-color="#0b0b33"/><stop offset="0.4158" stop-color="#0b0b32"/><stop offset="0.5026" stop-color="#0b0b32"/><stop offset="0.5825" stop-color="#0b0b31"/><stop offset="0.6554" stop-color="#0b0b30"/><stop offset="0.7212" stop-color="#0a0a2f"/><stop offset="0.7801" stop-color="#0a0a2f"/><stop offset="0.8319" stop-color="#0a0a2e"/><stop offset="0.8769" stop-color="#0a0a2d"/><stop offset="0.9149" stop-color="#0a0a2d"/><stop offset="0.9462" stop-color="#0a0a2c"/><stop offset="0.9707" stop-color="#0a0a2c"/><stop offset="0.9886" stop-color="#0a0a2c"/><stop offset="1.0000" stop-color="#09092b"/></linearGradient>
<path d="M534.58,718.96L534.24,720.99L533.66,723.03L532.84,725.06L531.77,727.10L530.45,729.12L528.88,731.12L527.05,733.09L524.97,735.03L522.63,736.93L520.04,738.77L517.21,740.56L514.13,742.27L512.72,758.70L515.74,756.91L518.53,755.04L521.07,753.11L523.37,751.12L525.42,749.09L527.22,747.02L528.77,744.92L530.08,742.80L531.14,740.67L531.96,738.53L532.54,736.39L532.89,734.26Z" fill="url(#pw13)"/>
<linearGradient id="pw14" gradientUnits="userSpaceOnUse" x1="383.16" y1="0" x2="514.13" y2="0"><stop offset="0.0000" stop-color="#b85807"/><stop offset="0.0381" stop-color="#b45607"/><stop offset="0.0833" stop-color="#af5307"/><stop offset="0.1352" stop-color="#aa5107"/><stop offset="0.1931" stop-color="#a54f07"/><stop offset="0.2565" stop-color="#a04c06"/><stop offset="0.3243" stop-color="#9a4906"/><stop offset="0.3957" stop-color="#944606"/><stop offset="0.4694" stop-color="#8e4306"/><stop offset="0.5443" stop-color="#884105"/><stop offset="0.6190" stop-color="#813e05"/><stop offset="0.6924" stop-color="#7b3b05"/><stop offset="0.7631" stop-color="#753805"/><stop offset="0.8302" stop-color="#703504"/><stop offset="0.8926" stop-color="#6a3304"/><stop offset="0.9494" stop-color="#653004"/><stop offset="1.0000" stop-color="#602e04"/></linearGradient>
<path d="M514.13,742.27L510.81,743.91L507.27,745.47L503.52,746.93L499.55,748.30L495.40,749.55L491.07,750.69L486.57,751.70L481.93,752.59L477.17,753.35L472.31,753.97L467.36,754.44L462.34,754.77L457.29,754.96L452.22,755.00L447.16,754.88L442.13,754.63L437.14,754.22L432.23,753.67L427.41,752.99L422.71,752.16L418.15,751.21L413.73,750.13L409.49,748.93L405.43,747.62L401.57,746.21L397.92,744.70L394.49,743.10L391.29,741.42L388.34,739.67L385.62,737.85L383.16,735.98L384.75,752.11L387.17,754.07L389.83,755.98L392.73,757.81L395.86,759.57L399.21,761.24L402.79,762.82L406.56,764.30L410.53,765.66L414.68,766.91L418.99,768.04L423.46,769.04L428.05,769.90L432.75,770.61L437.54,771.19L442.40,771.61L447.31,771.88L452.25,772.00L457.20,771.96L462.13,771.76L467.02,771.42L471.85,770.92L476.60,770.28L481.25,769.49L485.78,768.56L490.17,767.50L494.40,766.31L498.46,765.00L502.34,763.58L506.01,762.05L509.48,760.42L512.72,758.70Z" fill="url(#pw14)"/>
<linearGradient id="pw15" gradientUnits="userSpaceOnUse" x1="372.42" y1="0" x2="383.16" y2="0"><stop offset="0.0000" stop-color="#dc0000"/><stop offset="0.0141" stop-color="#db0000"/><stop offset="0.0344" stop-color="#db0000"/><stop offset="0.0609" stop-color="#da0000"/><stop offset="0.0938" stop-color="#da0000"/><stop offset="0.1331" stop-color="#d90000"/><stop offset="0.1788" stop-color="#d80000"/><stop offset="0.2310" stop-color="#d80000"/><stop offset="0.2898" stop-color="#d70000"/><stop offset="0.3553" stop-color="#d60000"/><stop offset="0.4273" stop-color="#d50000"/><stop offset="0.5060" stop-color="#d40000"/><stop offset="0.5914" stop-color="#d30000"/><stop offset="0.6835" stop-color="#d20000"/><stop offset="0.7823" stop-color="#d10000"/><stop offset="0.8878" stop-color="#d00000"/><stop offset="1.0000" stop-color="#cf0000"/></linearGradient>
<path d="M383.16,735.98L381.07,734.17L379.20,732.32L377.57,730.45L376.15,728.55L374.97,726.64L374.00,724.72L373.26,722.80L372.73,720.88L372.42,718.96L374.11,734.26L374.43,736.27L374.97,738.29L375.71,740.31L376.67,742.32L377.84,744.33L379.24,746.32L380.85,748.28L382.69,750.22L384.75,752.11Z" fill="url(#pw15)"/>
<path d="M453.50,710.00L453.50,679.00L456.98,679.03L460.46,679.14L463.93,679.31L467.38,679.56L470.81,679.87L474.22,680.26L477.59,680.71L480.93,681.23L484.23,681.83L487.49,682.49L490.69,683.22L493.83,684.02L496.91,684.89L499.92,685.82L502.85,686.83L505.71,687.90L508.47,689.03L511.14,690.24L513.70,691.50L516.15,692.83L518.49,694.22L520.70,695.68L522.78,697.19L524.72,698.76L526.52,700.38L528.15,702.06L529.63,703.79L530.93,705.57L532.05,707.39L532.98,709.25L533.72,711.15L534.26,713.09L534.58,715.05L534.69,717.04L534.57,719.05L534.22,721.07L533.64,723.10L532.81,725.13L531.74,727.15L530.42,729.16L528.84,731.16L527.02,733.12L524.94,735.06L522.61,736.95L520.02,738.78L517.20,740.56L514.13,742.27Z" fill="#1c1c80" stroke="#1c1c80" stroke-width="0.3"/>
<path d="M453.50,710.00L514.13,742.27L510.81,743.91L507.27,745.47L503.52,746.93L499.55,748.30L495.40,749.55L491.07,750.69L486.57,751.70L481.93,752.59L477.17,753.35L472.31,753.97L467.36,754.44L462.34,754.77L457.29,754.96L452.22,755.00L447.16,754.88L442.13,754.63L437.14,754.22L432.23,753.67L427.41,752.99L422.71,752.16L418.15,751.21L413.73,750.13L409.49,748.93L405.43,747.62L401.57,746.21L397.92,744.70L394.49,743.10L391.29,741.42L388.34,739.67L385.62,737.85L383.16,735.98Z" fill="#e36c09" stroke="#e36c09" stroke-width="0.3"/>
<path d="M453.50,710.00L383.16,735.98L380.95,734.06L379.00,732.11L377.30,730.12L375.86,728.11L374.66,726.08L373.72,724.05L373.02,722.01L372.56,719.98L372.34,717.96L372.34,715.95L372.57,713.97L373.01,712.02L373.66,710.10L374.51,708.21L375.56,706.37L376.78,704.56L378.19,702.81L379.76,701.10L381.49,699.45L383.37,697.85L385.40,696.31L387.57,694.83L389.86,693.40L392.27,692.04L394.80,690.75L397.44,689.51L400.17,688.35L402.99,687.25L405.90,686.21L408.89,685.25L411.96,684.35Z" fill="#ff0000" stroke="#ff0000" stroke-width="0.3"/>
<path d="M453.50,710.00L411.96,684.35L414.56,683.66L417.21,683.01L419.89,682.41L422.61,681.86Z" fill="#604a7b" stroke="#604a7b" stroke-width="0.3"/>
<path d="M453.50,710.00L422.61,681.86L425.93,681.26L429.28,680.73L432.68,680.27L436.10,679.88L439.55,679.57L443.02,679.32L446.51,679.14L450.00,679.04L453.50,679.00Z" fill="#c4bd97" stroke="#c4bd97" stroke-width="0.3"/>
<text x="618.6" y="656" font-size="15" font-weight="bold" fill="#111" text-anchor="end" letter-spacing="-0.2" >Obchodní skupiny, 15-54</text>
<rect x="562.3" y="719" width="7" height="7" fill="#1c1c80" />
<text x="571.5" y="726" font-size="11" font-weight="normal" fill="#333" text-anchor="start" letter-spacing="0.4" >CET 21</text>
<rect x="562.3" y="734" width="7" height="7" fill="#e36c09" />
<text x="571.5" y="741" font-size="11" font-weight="normal" fill="#333" text-anchor="start" letter-spacing="0.4" >Media Club</text>
<rect x="562.3" y="748" width="7" height="7" fill="#ff0000" />
<text x="571.5" y="755" font-size="11" font-weight="normal" fill="#333" text-anchor="start" letter-spacing="0.4" >ČT celkem</text>
<rect x="562.3" y="763" width="7" height="7" fill="#604a7b" />
<text x="571.5" y="770" font-size="11" font-weight="normal" fill="#333" text-anchor="start" letter-spacing="0.4" >Atmedia</text>
<rect x="562.3" y="778" width="7" height="7" fill="#c4bd97" />
<text x="571.5" y="785" font-size="11" font-weight="normal" fill="#333" text-anchor="start" letter-spacing="0.4" >ostatní</text>
<text x="533" y="696.5" font-size="11" font-weight="bold" fill="#111" text-anchor="start" letter-spacing="0.2" >38,65</text>
<path d="M525.4,697.5L532.5,697.5" fill="none" stroke="#333" stroke-width="1"/>
<text x="402" y="670.4" font-size="11" font-weight="bold" fill="#111" text-anchor="start" letter-spacing="0.2" >7,44</text>
<path d="M427.3,670.5L432.8,670.5L438,678" fill="none" stroke="#333" stroke-width="1"/>
<text x="375" y="678" font-size="11" font-weight="bold" fill="#111" text-anchor="start" letter-spacing="0.2" >2,75</text>
<path d="M399,678L405.8,678L417.5,683.6" fill="none" stroke="#333" stroke-width="1"/>
<text x="339.6" y="708.8" font-size="11" font-weight="bold" fill="#111" text-anchor="start" letter-spacing="0.2" >25,57</text>
<path d="M371.3,708.8L375.6,708.8L375.6,705.8" fill="none" stroke="#333" stroke-width="1"/>
<text x="418" y="790.4" font-size="11" font-weight="bold" fill="#111" text-anchor="start" letter-spacing="0.2" >25,57</text>
</svg>
</body></html>
